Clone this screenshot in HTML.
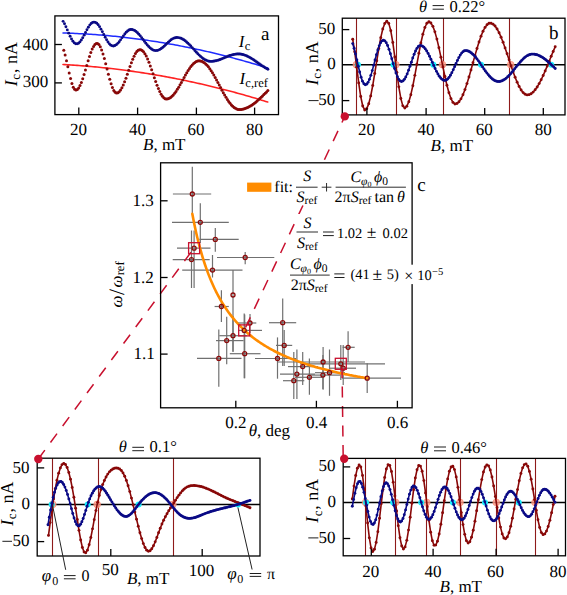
<!DOCTYPE html>
<html><head><meta charset="utf-8"><style>
html,body{margin:0;padding:0;background:#fff;}
svg{display:block;font-family:"Liberation Serif",serif;text-rendering:geometricPrecision;}
</style></head><body>
<svg width="567" height="595" viewBox="0 0 567 595" font-family="Liberation Serif">
<rect width="567" height="595" fill="#fff"/>
<polyline points="63.00,33.00 65.01,33.06 67.01,33.12 69.02,33.19 71.03,33.27 73.03,33.35 75.04,33.44 77.05,33.53 79.05,33.63 81.06,33.73 83.07,33.84 85.08,33.96 87.08,34.08 89.09,34.21 91.10,34.34 93.10,34.48 95.11,34.62 97.12,34.77 99.12,34.92 101.13,35.08 103.14,35.25 105.14,35.42 107.15,35.60 109.16,35.78 111.16,35.97 113.17,36.16 115.18,36.36 117.19,36.57 119.19,36.78 121.20,37.00 123.21,37.22 125.21,37.45 127.22,37.68 129.23,37.92 131.23,38.16 133.24,38.42 135.25,38.67 137.25,38.93 139.26,39.20 141.27,39.47 143.27,39.75 145.28,40.04 147.29,40.33 149.30,40.62 151.30,40.92 153.31,41.23 155.32,41.54 157.32,41.86 159.33,42.18 161.34,42.51 163.34,42.85 165.35,43.19 167.36,43.53 169.36,43.89 171.37,44.24 173.38,44.61 175.38,44.98 177.39,45.35 179.40,45.73 181.40,46.12 183.41,46.51 185.42,46.90 187.43,47.31 189.43,47.71 191.44,48.13 193.45,48.55 195.45,48.97 197.46,49.40 199.47,49.84 201.47,50.28 203.48,50.73 205.49,51.18 207.49,51.64 209.50,52.10 211.51,52.57 213.51,53.05 215.52,53.53 217.53,54.02 219.54,54.51 221.54,55.01 223.55,55.51 225.56,56.02 227.56,56.54 229.57,57.06 231.58,57.58 233.58,58.12 235.59,58.65 237.60,59.20 239.60,59.75 241.61,60.30 243.62,60.86 245.62,61.43 247.63,62.00 249.64,62.57 251.65,63.16 253.65,63.75 255.66,64.34 257.67,64.94 259.67,65.54 261.68,66.16 263.69,66.77 265.69,67.39 267.70,68.02" fill="none" stroke="#1f2bff" stroke-width="1.5" stroke-linejoin="round" stroke-linecap="round" />
<polyline points="63.00,64.50 65.01,64.61 67.01,64.73 69.02,64.85 71.03,64.97 73.03,65.10 75.04,65.24 77.05,65.38 79.05,65.53 81.06,65.68 83.07,65.84 85.08,66.00 87.08,66.16 89.09,66.34 91.10,66.51 93.10,66.70 95.11,66.88 97.12,67.07 99.12,67.27 101.13,67.47 103.14,67.68 105.14,67.89 107.15,68.11 109.16,68.33 111.16,68.56 113.17,68.80 115.18,69.03 117.19,69.28 119.19,69.52 121.20,69.78 123.21,70.04 125.21,70.30 127.22,70.57 129.23,70.84 131.23,71.12 133.24,71.40 135.25,71.69 137.25,71.99 139.26,72.29 141.27,72.59 143.27,72.90 145.28,73.21 147.29,73.53 149.30,73.86 151.30,74.19 153.31,74.52 155.32,74.86 157.32,75.21 159.33,75.56 161.34,75.91 163.34,76.27 165.35,76.64 167.36,77.01 169.36,77.38 171.37,77.76 173.38,78.15 175.38,78.54 177.39,78.94 179.40,79.34 181.40,79.74 183.41,80.15 185.42,80.57 187.43,80.99 189.43,81.42 191.44,81.85 193.45,82.29 195.45,82.73 197.46,83.17 199.47,83.63 201.47,84.08 203.48,84.54 205.49,85.01 207.49,85.48 209.50,85.96 211.51,86.44 213.51,86.93 215.52,87.42 217.53,87.92 219.54,88.42 221.54,88.93 223.55,89.44 225.56,89.96 227.56,90.49 229.57,91.01 231.58,91.55 233.58,92.08 235.59,92.63 237.60,93.18 239.60,93.73 241.61,94.29 243.62,94.85 245.62,95.42 247.63,96.00 249.64,96.57 251.65,97.16 253.65,97.75 255.66,98.34 257.67,98.94 259.67,99.55 261.68,100.16 263.69,100.77 265.69,101.39 267.70,102.02" fill="none" stroke="#ff2222" stroke-width="1.6" stroke-linejoin="round" stroke-linecap="round" />
<g fill="#0a0a85"><circle cx="63.10" cy="21.35" r="1.45"/><circle cx="64.50" cy="23.82" r="1.45"/><circle cx="65.91" cy="26.74" r="1.45"/><circle cx="67.31" cy="29.92" r="1.45"/><circle cx="68.71" cy="33.17" r="1.45"/><circle cx="70.11" cy="36.28" r="1.45"/><circle cx="71.52" cy="39.05" r="1.45"/><circle cx="72.92" cy="41.32" r="1.45"/><circle cx="74.32" cy="42.92" r="1.45"/><circle cx="75.72" cy="43.77" r="1.45"/><circle cx="77.13" cy="43.83" r="1.45"/><circle cx="78.53" cy="43.18" r="1.45"/><circle cx="79.93" cy="41.89" r="1.45"/><circle cx="81.34" cy="40.04" r="1.45"/><circle cx="82.74" cy="37.75" r="1.45"/><circle cx="84.14" cy="35.16" r="1.45"/><circle cx="85.54" cy="32.43" r="1.45"/><circle cx="86.95" cy="29.73" r="1.45"/><circle cx="88.35" cy="27.24" r="1.45"/><circle cx="89.75" cy="25.12" r="1.45"/><circle cx="91.15" cy="23.49" r="1.45"/><circle cx="92.56" cy="22.46" r="1.45"/><circle cx="93.96" cy="22.10" r="1.45"/><circle cx="95.36" cy="22.40" r="1.45"/><circle cx="96.77" cy="23.32" r="1.45"/><circle cx="98.17" cy="24.80" r="1.45"/><circle cx="99.57" cy="26.78" r="1.45"/><circle cx="100.97" cy="29.14" r="1.45"/><circle cx="102.38" cy="31.76" r="1.45"/><circle cx="103.78" cy="34.50" r="1.45"/><circle cx="105.18" cy="37.22" r="1.45"/><circle cx="106.58" cy="39.77" r="1.45"/><circle cx="107.99" cy="42.02" r="1.45"/><circle cx="109.39" cy="43.84" r="1.45"/><circle cx="110.79" cy="45.15" r="1.45"/><circle cx="112.20" cy="45.87" r="1.45"/><circle cx="113.60" cy="45.97" r="1.45"/><circle cx="115.00" cy="45.55" r="1.45"/><circle cx="116.40" cy="44.67" r="1.45"/><circle cx="117.81" cy="43.37" r="1.45"/><circle cx="119.21" cy="41.74" r="1.45"/><circle cx="120.61" cy="39.87" r="1.45"/><circle cx="122.02" cy="37.87" r="1.45"/><circle cx="123.42" cy="35.87" r="1.45"/><circle cx="124.82" cy="33.98" r="1.45"/><circle cx="126.22" cy="32.31" r="1.45"/><circle cx="127.63" cy="30.97" r="1.45"/><circle cx="129.03" cy="30.03" r="1.45"/><circle cx="130.43" cy="29.56" r="1.45"/><circle cx="131.83" cy="29.55" r="1.45"/><circle cx="133.24" cy="29.89" r="1.45"/><circle cx="134.64" cy="30.55" r="1.45"/><circle cx="136.04" cy="31.52" r="1.45"/><circle cx="137.45" cy="32.75" r="1.45"/><circle cx="138.85" cy="34.22" r="1.45"/><circle cx="140.25" cy="35.87" r="1.45"/><circle cx="141.65" cy="37.66" r="1.45"/><circle cx="143.06" cy="39.52" r="1.45"/><circle cx="144.46" cy="41.40" r="1.45"/><circle cx="145.86" cy="43.24" r="1.45"/><circle cx="147.26" cy="44.97" r="1.45"/><circle cx="148.67" cy="46.55" r="1.45"/><circle cx="150.07" cy="47.92" r="1.45"/><circle cx="151.47" cy="49.04" r="1.45"/><circle cx="152.88" cy="49.88" r="1.45"/><circle cx="154.28" cy="50.40" r="1.45"/><circle cx="155.68" cy="50.60" r="1.45"/><circle cx="157.08" cy="50.48" r="1.45"/><circle cx="158.49" cy="50.08" r="1.45"/><circle cx="159.89" cy="49.42" r="1.45"/><circle cx="161.29" cy="48.53" r="1.45"/><circle cx="162.69" cy="47.44" r="1.45"/><circle cx="164.10" cy="46.21" r="1.45"/><circle cx="165.50" cy="44.88" r="1.45"/><circle cx="166.90" cy="43.51" r="1.45"/><circle cx="168.31" cy="42.17" r="1.45"/><circle cx="169.71" cy="40.91" r="1.45"/><circle cx="171.11" cy="39.79" r="1.45"/><circle cx="172.51" cy="38.85" r="1.45"/><circle cx="173.92" cy="38.14" r="1.45"/><circle cx="175.32" cy="37.68" r="1.45"/><circle cx="176.72" cy="37.50" r="1.45"/><circle cx="178.12" cy="37.58" r="1.45"/><circle cx="179.53" cy="37.85" r="1.45"/><circle cx="180.93" cy="38.32" r="1.45"/><circle cx="182.33" cy="38.98" r="1.45"/><circle cx="183.74" cy="39.82" r="1.45"/><circle cx="185.14" cy="40.82" r="1.45"/><circle cx="186.54" cy="41.96" r="1.45"/><circle cx="187.94" cy="43.23" r="1.45"/><circle cx="189.35" cy="44.61" r="1.45"/><circle cx="190.75" cy="46.06" r="1.45"/><circle cx="192.15" cy="47.58" r="1.45"/><circle cx="193.55" cy="49.12" r="1.45"/><circle cx="194.96" cy="50.67" r="1.45"/><circle cx="196.36" cy="52.20" r="1.45"/><circle cx="197.76" cy="53.69" r="1.45"/><circle cx="199.17" cy="55.10" r="1.45"/><circle cx="200.57" cy="56.42" r="1.45"/><circle cx="201.97" cy="57.62" r="1.45"/><circle cx="203.37" cy="58.68" r="1.45"/><circle cx="204.78" cy="59.59" r="1.45"/><circle cx="206.18" cy="60.32" r="1.45"/><circle cx="207.58" cy="60.87" r="1.45"/><circle cx="208.98" cy="61.23" r="1.45"/><circle cx="210.39" cy="61.39" r="1.45"/><circle cx="211.79" cy="61.38" r="1.45"/><circle cx="213.19" cy="61.26" r="1.45"/><circle cx="214.60" cy="61.06" r="1.45"/><circle cx="216.00" cy="60.77" r="1.45"/><circle cx="217.40" cy="60.40" r="1.45"/><circle cx="218.80" cy="59.96" r="1.45"/><circle cx="220.21" cy="59.46" r="1.45"/><circle cx="221.61" cy="58.92" r="1.45"/><circle cx="223.01" cy="58.35" r="1.45"/><circle cx="224.42" cy="57.76" r="1.45"/><circle cx="225.82" cy="57.17" r="1.45"/><circle cx="227.22" cy="56.59" r="1.45"/><circle cx="228.62" cy="56.04" r="1.45"/><circle cx="230.03" cy="55.53" r="1.45"/><circle cx="231.43" cy="55.08" r="1.45"/><circle cx="232.83" cy="54.70" r="1.45"/><circle cx="234.23" cy="54.39" r="1.45"/><circle cx="235.64" cy="54.17" r="1.45"/><circle cx="237.04" cy="54.04" r="1.45"/><circle cx="238.44" cy="54.00" r="1.45"/><circle cx="239.85" cy="54.07" r="1.45"/><circle cx="241.25" cy="54.24" r="1.45"/><circle cx="242.65" cy="54.53" r="1.45"/><circle cx="244.05" cy="54.92" r="1.45"/><circle cx="245.46" cy="55.40" r="1.45"/><circle cx="246.86" cy="55.99" r="1.45"/><circle cx="248.26" cy="56.65" r="1.45"/><circle cx="249.66" cy="57.40" r="1.45"/><circle cx="251.07" cy="58.22" r="1.45"/><circle cx="252.47" cy="59.09" r="1.45"/><circle cx="253.87" cy="60.01" r="1.45"/><circle cx="255.28" cy="60.97" r="1.45"/><circle cx="256.68" cy="61.95" r="1.45"/><circle cx="258.08" cy="62.95" r="1.45"/><circle cx="259.48" cy="63.95" r="1.45"/><circle cx="260.89" cy="64.93" r="1.45"/><circle cx="262.29" cy="65.90" r="1.45"/><circle cx="263.69" cy="66.82" r="1.45"/><circle cx="265.09" cy="67.70" r="1.45"/><circle cx="266.50" cy="68.52" r="1.45"/><circle cx="267.90" cy="69.28" r="1.45"/></g>
<g fill="#880808"><circle cx="63.80" cy="50.26" r="1.5"/><circle cx="65.15" cy="55.05" r="1.5"/><circle cx="66.50" cy="60.69" r="1.5"/><circle cx="67.85" cy="66.79" r="1.5"/><circle cx="69.21" cy="72.91" r="1.5"/><circle cx="70.56" cy="78.60" r="1.5"/><circle cx="71.91" cy="83.46" r="1.5"/><circle cx="73.26" cy="87.13" r="1.5"/><circle cx="74.61" cy="89.36" r="1.5"/><circle cx="75.96" cy="89.99" r="1.5"/><circle cx="77.32" cy="89.41" r="1.5"/><circle cx="78.67" cy="87.93" r="1.5"/><circle cx="80.02" cy="85.59" r="1.5"/><circle cx="81.37" cy="82.50" r="1.5"/><circle cx="82.72" cy="78.78" r="1.5"/><circle cx="84.07" cy="74.57" r="1.5"/><circle cx="85.43" cy="70.05" r="1.5"/><circle cx="86.78" cy="65.40" r="1.5"/><circle cx="88.13" cy="60.79" r="1.5"/><circle cx="89.48" cy="56.43" r="1.5"/><circle cx="90.83" cy="52.47" r="1.5"/><circle cx="92.18" cy="49.08" r="1.5"/><circle cx="93.54" cy="46.40" r="1.5"/><circle cx="94.89" cy="44.53" r="1.5"/><circle cx="96.24" cy="43.55" r="1.5"/><circle cx="97.59" cy="43.51" r="1.5"/><circle cx="98.94" cy="44.58" r="1.5"/><circle cx="100.29" cy="46.75" r="1.5"/><circle cx="101.65" cy="49.90" r="1.5"/><circle cx="103.00" cy="53.91" r="1.5"/><circle cx="104.35" cy="58.57" r="1.5"/><circle cx="105.70" cy="63.68" r="1.5"/><circle cx="107.05" cy="69.00" r="1.5"/><circle cx="108.40" cy="74.29" r="1.5"/><circle cx="109.76" cy="79.29" r="1.5"/><circle cx="111.11" cy="83.78" r="1.5"/><circle cx="112.46" cy="87.54" r="1.5"/><circle cx="113.81" cy="90.41" r="1.5"/><circle cx="115.16" cy="92.26" r="1.5"/><circle cx="116.51" cy="92.99" r="1.5"/><circle cx="117.87" cy="92.73" r="1.5"/><circle cx="119.22" cy="91.76" r="1.5"/><circle cx="120.57" cy="90.11" r="1.5"/><circle cx="121.92" cy="87.84" r="1.5"/><circle cx="123.27" cy="85.02" r="1.5"/><circle cx="124.62" cy="81.75" r="1.5"/><circle cx="125.98" cy="78.13" r="1.5"/><circle cx="127.33" cy="74.28" r="1.5"/><circle cx="128.68" cy="70.34" r="1.5"/><circle cx="130.03" cy="66.42" r="1.5"/><circle cx="131.38" cy="62.67" r="1.5"/><circle cx="132.73" cy="59.21" r="1.5"/><circle cx="134.09" cy="56.14" r="1.5"/><circle cx="135.44" cy="53.58" r="1.5"/><circle cx="136.79" cy="51.60" r="1.5"/><circle cx="138.14" cy="50.28" r="1.5"/><circle cx="139.49" cy="49.65" r="1.5"/><circle cx="140.84" cy="49.72" r="1.5"/><circle cx="142.20" cy="50.44" r="1.5"/><circle cx="143.55" cy="51.76" r="1.5"/><circle cx="144.90" cy="53.67" r="1.5"/><circle cx="146.25" cy="56.11" r="1.5"/><circle cx="147.60" cy="59.02" r="1.5"/><circle cx="148.95" cy="62.32" r="1.5"/><circle cx="150.31" cy="65.93" r="1.5"/><circle cx="151.66" cy="69.75" r="1.5"/><circle cx="153.01" cy="73.69" r="1.5"/><circle cx="154.36" cy="77.64" r="1.5"/><circle cx="155.71" cy="81.51" r="1.5"/><circle cx="157.06" cy="85.19" r="1.5"/><circle cx="158.42" cy="88.59" r="1.5"/><circle cx="159.77" cy="91.61" r="1.5"/><circle cx="161.12" cy="94.19" r="1.5"/><circle cx="162.47" cy="96.25" r="1.5"/><circle cx="163.82" cy="97.75" r="1.5"/><circle cx="165.17" cy="98.64" r="1.5"/><circle cx="166.53" cy="98.90" r="1.5"/><circle cx="167.88" cy="98.71" r="1.5"/><circle cx="169.23" cy="98.20" r="1.5"/><circle cx="170.58" cy="97.39" r="1.5"/><circle cx="171.93" cy="96.29" r="1.5"/><circle cx="173.28" cy="94.91" r="1.5"/><circle cx="174.64" cy="93.27" r="1.5"/><circle cx="175.99" cy="91.42" r="1.5"/><circle cx="177.34" cy="89.37" r="1.5"/><circle cx="178.69" cy="87.16" r="1.5"/><circle cx="180.04" cy="84.82" r="1.5"/><circle cx="181.39" cy="82.41" r="1.5"/><circle cx="182.75" cy="79.95" r="1.5"/><circle cx="184.10" cy="77.49" r="1.5"/><circle cx="185.45" cy="75.07" r="1.5"/><circle cx="186.80" cy="72.73" r="1.5"/><circle cx="188.15" cy="70.51" r="1.5"/><circle cx="189.50" cy="68.44" r="1.5"/><circle cx="190.86" cy="66.57" r="1.5"/><circle cx="192.21" cy="64.92" r="1.5"/><circle cx="193.56" cy="63.51" r="1.5"/><circle cx="194.91" cy="62.39" r="1.5"/><circle cx="196.26" cy="61.55" r="1.5"/><circle cx="197.61" cy="61.02" r="1.5"/><circle cx="198.97" cy="60.80" r="1.5"/><circle cx="200.32" cy="60.89" r="1.5"/><circle cx="201.67" cy="61.25" r="1.5"/><circle cx="203.02" cy="61.88" r="1.5"/><circle cx="204.37" cy="62.76" r="1.5"/><circle cx="205.72" cy="63.90" r="1.5"/><circle cx="207.08" cy="65.27" r="1.5"/><circle cx="208.43" cy="66.86" r="1.5"/><circle cx="209.78" cy="68.66" r="1.5"/><circle cx="211.13" cy="70.64" r="1.5"/><circle cx="212.48" cy="72.78" r="1.5"/><circle cx="213.83" cy="75.06" r="1.5"/><circle cx="215.19" cy="77.45" r="1.5"/><circle cx="216.54" cy="79.93" r="1.5"/><circle cx="217.89" cy="82.47" r="1.5"/><circle cx="219.24" cy="85.04" r="1.5"/><circle cx="220.59" cy="87.60" r="1.5"/><circle cx="221.94" cy="90.15" r="1.5"/><circle cx="223.30" cy="92.63" r="1.5"/><circle cx="224.65" cy="95.03" r="1.5"/><circle cx="226.00" cy="97.32" r="1.5"/><circle cx="227.35" cy="99.48" r="1.5"/><circle cx="228.70" cy="101.47" r="1.5"/><circle cx="230.05" cy="103.29" r="1.5"/><circle cx="231.41" cy="104.90" r="1.5"/><circle cx="232.76" cy="106.29" r="1.5"/><circle cx="234.11" cy="107.45" r="1.5"/><circle cx="235.46" cy="108.35" r="1.5"/><circle cx="236.81" cy="109.00" r="1.5"/><circle cx="238.16" cy="109.39" r="1.5"/><circle cx="239.52" cy="109.50" r="1.5"/><circle cx="240.87" cy="109.44" r="1.5"/><circle cx="242.22" cy="109.26" r="1.5"/><circle cx="243.57" cy="108.98" r="1.5"/><circle cx="244.92" cy="108.60" r="1.5"/><circle cx="246.27" cy="108.11" r="1.5"/><circle cx="247.63" cy="107.52" r="1.5"/><circle cx="248.98" cy="106.83" r="1.5"/><circle cx="250.33" cy="106.06" r="1.5"/><circle cx="251.68" cy="105.19" r="1.5"/><circle cx="253.03" cy="104.25" r="1.5"/><circle cx="254.38" cy="103.23" r="1.5"/><circle cx="255.74" cy="102.14" r="1.5"/><circle cx="257.09" cy="100.99" r="1.5"/><circle cx="258.44" cy="99.79" r="1.5"/><circle cx="259.79" cy="98.54" r="1.5"/><circle cx="261.14" cy="97.25" r="1.5"/><circle cx="262.49" cy="95.94" r="1.5"/><circle cx="263.85" cy="94.60" r="1.5"/><circle cx="265.20" cy="93.25" r="1.5"/><circle cx="266.55" cy="91.90" r="1.5"/><circle cx="267.90" cy="90.56" r="1.5"/></g>
<rect x="54.90" y="15.90" width="223.60" height="98.70" fill="none" stroke="#000" stroke-width="1.3"/>
<line x1="54.90" y1="44.50" x2="61.90" y2="44.50" stroke="#000" stroke-width="1.3" />
<line x1="54.90" y1="82.90" x2="61.90" y2="82.90" stroke="#000" stroke-width="1.3" />
<line x1="78.80" y1="114.60" x2="78.80" y2="107.60" stroke="#000" stroke-width="1.3" />
<line x1="137.60" y1="114.60" x2="137.60" y2="107.60" stroke="#000" stroke-width="1.3" />
<line x1="196.40" y1="114.60" x2="196.40" y2="107.60" stroke="#000" stroke-width="1.3" />
<line x1="254.60" y1="114.60" x2="254.60" y2="107.60" stroke="#000" stroke-width="1.3" />
<text x="22.70" y="49.50" font-size="17" >400</text>
<text x="22.70" y="87.30" font-size="17" >300</text>
<text x="70.00" y="134.50" font-size="17" >20</text>
<text x="129.10" y="134.50" font-size="17" >40</text>
<text x="187.40" y="134.50" font-size="17" >60</text>
<text x="246.10" y="134.50" font-size="17" >80</text>
<text x="143.00" y="150.20" font-size="17" ><tspan font-style="italic">B</tspan>, mT</text>
<text transform="translate(17.00,86.20) rotate(-90)" font-size="18" ><tspan font-style="italic">I</tspan><tspan font-size="13" dx="0.5" dy="3.2">c</tspan><tspan dy="-3.2" dx="0.8">, nA</tspan></text>
<text x="261.10" y="39.50" font-size="19" >a</text>
<text x="238.80" y="47.40" font-size="17" ><tspan font-style="italic">I</tspan><tspan font-size="12.5" dx="0.3" dy="2.2">c</tspan></text>
<text x="239.40" y="83.90" font-size="17" ><tspan font-style="italic">I</tspan><tspan font-size="12.5" dx="0.3" dy="2.6">c,ref</tspan></text>
<line x1="356.50" y1="18.20" x2="356.50" y2="114.90" stroke="#8e1a1a" stroke-width="1.1" />
<line x1="396.50" y1="18.20" x2="396.50" y2="114.90" stroke="#8e1a1a" stroke-width="1.1" />
<line x1="443.50" y1="18.20" x2="443.50" y2="114.90" stroke="#8e1a1a" stroke-width="1.1" />
<line x1="509.50" y1="18.20" x2="509.50" y2="114.90" stroke="#8e1a1a" stroke-width="1.1" />
<line x1="342.30" y1="64.70" x2="565.00" y2="64.70" stroke="#000" stroke-width="1.5" />
<circle cx="356.39" cy="64.70" r="3.4" fill="#ff9c88" stroke="#ff8a70" stroke-width="0.6" fill-opacity="0.8"/>
<circle cx="395.81" cy="64.70" r="3.4" fill="#ff9c88" stroke="#ff8a70" stroke-width="0.6" fill-opacity="0.8"/>
<circle cx="442.47" cy="64.70" r="3.4" fill="#ff9c88" stroke="#ff8a70" stroke-width="0.6" fill-opacity="0.8"/>
<circle cx="510.69" cy="64.70" r="3.4" fill="#ff9c88" stroke="#ff8a70" stroke-width="0.6" fill-opacity="0.8"/>
<circle cx="357.95" cy="64.70" r="3.0" fill="#18f0ff"/>
<circle cx="393.47" cy="64.70" r="3.0" fill="#18f0ff"/>
<circle cx="433.38" cy="64.70" r="3.0" fill="#18f0ff"/>
<circle cx="481.08" cy="64.70" r="3.0" fill="#18f0ff"/>
<circle cx="551.28" cy="64.70" r="3.0" fill="#18f0ff"/>
<polyline points="352.70,39.23 354.70,51.86 356.71,67.19 358.71,82.88 360.72,96.52 362.72,106.03 364.73,109.94 366.73,108.64 368.74,103.82 370.74,95.88 372.75,85.48 374.75,73.46 376.76,60.79 378.76,48.52 380.77,37.65 382.77,29.04 384.78,23.41 386.78,21.22 388.79,23.39 390.79,30.78 392.80,42.45 394.80,56.92 396.81,72.37 398.81,86.84 400.82,98.48 402.82,105.84 404.83,107.98 406.83,106.22 408.84,101.69 410.84,94.70 412.85,85.73 414.85,75.36 416.86,64.30 418.86,53.27 420.87,43.02 422.87,34.23 424.88,27.50 426.88,23.26 428.89,21.80 430.89,22.95 432.90,26.36 434.90,31.85 436.91,39.09 438.91,47.68 440.92,57.14 442.92,66.92 444.93,76.47 446.93,85.25 448.94,92.77 450.94,98.60 452.95,102.40 454.95,103.96 456.96,103.55 458.96,101.82 460.97,98.85 462.97,94.73 464.98,89.60 466.98,83.62 468.99,76.99 470.99,69.92 473.00,62.65 475.00,55.41 477.01,48.43 479.01,41.94 481.02,36.15 483.02,31.25 485.03,27.41 487.03,24.73 489.04,23.32 491.04,23.19 493.05,24.13 495.05,26.07 497.06,28.95 499.06,32.69 501.07,37.18 503.07,42.30 505.08,47.90 507.08,53.81 509.09,59.87 511.09,65.90 513.10,71.74 515.10,77.21 517.11,82.17 519.11,86.46 521.12,89.96 523.12,92.58 525.13,94.24 527.13,94.89 529.14,94.64 531.14,93.69 533.15,92.08 535.15,89.82 537.16,86.97 539.16,83.58 541.17,79.72 543.17,75.46 545.18,70.90 547.18,66.12 549.19,61.22 551.19,56.29 553.20,51.43 555.20,46.75" fill="none" stroke="#880808" stroke-width="1.6" stroke-linejoin="round" stroke-linecap="round" />
<g fill="#880808"><circle cx="352.70" cy="39.23" r="1.45"/><circle cx="354.70" cy="51.86" r="1.45"/><circle cx="356.71" cy="67.19" r="1.45"/><circle cx="358.71" cy="82.88" r="1.45"/><circle cx="360.72" cy="96.52" r="1.45"/><circle cx="362.72" cy="106.03" r="1.45"/><circle cx="364.73" cy="109.94" r="1.45"/><circle cx="366.73" cy="108.64" r="1.45"/><circle cx="368.74" cy="103.82" r="1.45"/><circle cx="370.74" cy="95.88" r="1.45"/><circle cx="372.75" cy="85.48" r="1.45"/><circle cx="374.75" cy="73.46" r="1.45"/><circle cx="376.76" cy="60.79" r="1.45"/><circle cx="378.76" cy="48.52" r="1.45"/><circle cx="380.77" cy="37.65" r="1.45"/><circle cx="382.77" cy="29.04" r="1.45"/><circle cx="384.78" cy="23.41" r="1.45"/><circle cx="386.78" cy="21.22" r="1.45"/><circle cx="388.79" cy="23.39" r="1.45"/><circle cx="390.79" cy="30.78" r="1.45"/><circle cx="392.80" cy="42.45" r="1.45"/><circle cx="394.80" cy="56.92" r="1.45"/><circle cx="396.81" cy="72.37" r="1.45"/><circle cx="398.81" cy="86.84" r="1.45"/><circle cx="400.82" cy="98.48" r="1.45"/><circle cx="402.82" cy="105.84" r="1.45"/><circle cx="404.83" cy="107.98" r="1.45"/><circle cx="406.83" cy="106.22" r="1.45"/><circle cx="408.84" cy="101.69" r="1.45"/><circle cx="410.84" cy="94.70" r="1.45"/><circle cx="412.85" cy="85.73" r="1.45"/><circle cx="414.85" cy="75.36" r="1.45"/><circle cx="416.86" cy="64.30" r="1.45"/><circle cx="418.86" cy="53.27" r="1.45"/><circle cx="420.87" cy="43.02" r="1.45"/><circle cx="422.87" cy="34.23" r="1.45"/><circle cx="424.88" cy="27.50" r="1.45"/><circle cx="426.88" cy="23.26" r="1.45"/><circle cx="428.89" cy="21.80" r="1.45"/><circle cx="430.89" cy="22.95" r="1.45"/><circle cx="432.90" cy="26.36" r="1.45"/><circle cx="434.90" cy="31.85" r="1.45"/><circle cx="436.91" cy="39.09" r="1.45"/><circle cx="438.91" cy="47.68" r="1.45"/><circle cx="440.92" cy="57.14" r="1.45"/><circle cx="442.92" cy="66.92" r="1.45"/><circle cx="444.93" cy="76.47" r="1.45"/><circle cx="446.93" cy="85.25" r="1.45"/><circle cx="448.94" cy="92.77" r="1.45"/><circle cx="450.94" cy="98.60" r="1.45"/><circle cx="452.95" cy="102.40" r="1.45"/><circle cx="454.95" cy="103.96" r="1.45"/><circle cx="456.96" cy="103.55" r="1.45"/><circle cx="458.96" cy="101.82" r="1.45"/><circle cx="460.97" cy="98.85" r="1.45"/><circle cx="462.97" cy="94.73" r="1.45"/><circle cx="464.98" cy="89.60" r="1.45"/><circle cx="466.98" cy="83.62" r="1.45"/><circle cx="468.99" cy="76.99" r="1.45"/><circle cx="470.99" cy="69.92" r="1.45"/><circle cx="473.00" cy="62.65" r="1.45"/><circle cx="475.00" cy="55.41" r="1.45"/><circle cx="477.01" cy="48.43" r="1.45"/><circle cx="479.01" cy="41.94" r="1.45"/><circle cx="481.02" cy="36.15" r="1.45"/><circle cx="483.02" cy="31.25" r="1.45"/><circle cx="485.03" cy="27.41" r="1.45"/><circle cx="487.03" cy="24.73" r="1.45"/><circle cx="489.04" cy="23.32" r="1.45"/><circle cx="491.04" cy="23.19" r="1.45"/><circle cx="493.05" cy="24.13" r="1.45"/><circle cx="495.05" cy="26.07" r="1.45"/><circle cx="497.06" cy="28.95" r="1.45"/><circle cx="499.06" cy="32.69" r="1.45"/><circle cx="501.07" cy="37.18" r="1.45"/><circle cx="503.07" cy="42.30" r="1.45"/><circle cx="505.08" cy="47.90" r="1.45"/><circle cx="507.08" cy="53.81" r="1.45"/><circle cx="509.09" cy="59.87" r="1.45"/><circle cx="511.09" cy="65.90" r="1.45"/><circle cx="513.10" cy="71.74" r="1.45"/><circle cx="515.10" cy="77.21" r="1.45"/><circle cx="517.11" cy="82.17" r="1.45"/><circle cx="519.11" cy="86.46" r="1.45"/><circle cx="521.12" cy="89.96" r="1.45"/><circle cx="523.12" cy="92.58" r="1.45"/><circle cx="525.13" cy="94.24" r="1.45"/><circle cx="527.13" cy="94.89" r="1.45"/><circle cx="529.14" cy="94.64" r="1.45"/><circle cx="531.14" cy="93.69" r="1.45"/><circle cx="533.15" cy="92.08" r="1.45"/><circle cx="535.15" cy="89.82" r="1.45"/><circle cx="537.16" cy="86.97" r="1.45"/><circle cx="539.16" cy="83.58" r="1.45"/><circle cx="541.17" cy="79.72" r="1.45"/><circle cx="543.17" cy="75.46" r="1.45"/><circle cx="545.18" cy="70.90" r="1.45"/><circle cx="547.18" cy="66.12" r="1.45"/><circle cx="549.19" cy="61.22" r="1.45"/><circle cx="551.19" cy="56.29" r="1.45"/><circle cx="553.20" cy="51.43" r="1.45"/><circle cx="555.20" cy="46.75" r="1.45"/></g>
<polyline points="352.70,43.62 354.10,48.27 355.49,53.85 356.89,59.96 358.29,66.17 359.68,72.04 361.08,77.15 362.48,81.13 363.87,83.71 365.27,84.69 366.67,84.16 368.06,82.34 369.46,79.35 370.86,75.35 372.25,70.60 373.65,65.36 375.04,59.95 376.44,54.69 377.84,49.89 379.23,45.83 380.63,42.75 382.03,40.84 383.42,40.20 384.82,40.83 386.22,42.65 387.61,45.54 389.01,49.33 390.41,53.81 391.80,58.70 393.20,63.72 394.60,68.57 395.99,72.97 397.39,76.64 398.79,79.39 400.18,81.04 401.58,81.49 402.98,80.89 404.37,79.37 405.77,77.00 407.17,73.92 408.56,70.29 409.96,66.29 411.36,62.15 412.75,58.07 414.15,54.29 415.54,51.00 416.94,48.36 418.34,46.54 419.73,45.61 421.13,45.58 422.53,46.15 423.92,47.27 425.32,48.89 426.72,50.96 428.11,53.42 429.51,56.19 430.91,59.18 432.30,62.28 433.70,65.41 435.10,68.46 436.49,71.34 437.89,73.94 439.29,76.18 440.68,78.01 442.08,79.34 443.48,80.15 444.87,80.40 446.27,80.03 447.67,79.01 449.06,77.39 450.46,75.23 451.86,72.64 453.25,69.73 454.65,66.63 456.04,63.48 457.44,60.42 458.84,57.59 460.23,55.11 461.63,53.10 463.03,51.64 464.42,50.80 465.82,50.61 467.22,50.81 468.61,51.27 470.01,52.00 471.41,52.98 472.80,54.19 474.20,55.60 475.60,57.20 476.99,58.96 478.39,60.84 479.79,62.82 481.18,64.85 482.58,66.90 483.98,68.94 485.37,70.93 486.77,72.83 488.17,74.61 489.56,76.24 490.96,77.69 492.36,78.93 493.75,79.95 495.15,80.72 496.54,81.23 497.94,81.48 499.34,81.46 500.73,81.21 502.13,80.74 503.53,80.05 504.92,79.16 506.32,78.08 507.72,76.82 509.11,75.42 510.51,73.89 511.91,72.27 513.30,70.56 514.70,68.81 516.10,67.05 517.49,65.29 518.89,63.58 520.29,61.94 521.68,60.39 523.08,58.97 524.48,57.70 525.87,56.59 527.27,55.67 528.67,54.95 530.06,54.45 531.46,54.16 532.86,54.10 534.25,54.21 535.65,54.45 537.04,54.82 538.44,55.33 539.84,55.96 541.23,56.71 542.63,57.56 544.03,58.52 545.42,59.57 546.82,60.70 548.22,61.90 549.61,63.15 551.01,64.45 552.41,65.77 553.80,67.10 555.20,68.44" fill="none" stroke="#0a0a85" stroke-width="1.6" stroke-linejoin="round" stroke-linecap="round" />
<g fill="#0a0a85"><circle cx="352.70" cy="43.62" r="1.45"/><circle cx="354.10" cy="48.27" r="1.45"/><circle cx="355.49" cy="53.85" r="1.45"/><circle cx="356.89" cy="59.96" r="1.45"/><circle cx="358.29" cy="66.17" r="1.45"/><circle cx="359.68" cy="72.04" r="1.45"/><circle cx="361.08" cy="77.15" r="1.45"/><circle cx="362.48" cy="81.13" r="1.45"/><circle cx="363.87" cy="83.71" r="1.45"/><circle cx="365.27" cy="84.69" r="1.45"/><circle cx="366.67" cy="84.16" r="1.45"/><circle cx="368.06" cy="82.34" r="1.45"/><circle cx="369.46" cy="79.35" r="1.45"/><circle cx="370.86" cy="75.35" r="1.45"/><circle cx="372.25" cy="70.60" r="1.45"/><circle cx="373.65" cy="65.36" r="1.45"/><circle cx="375.04" cy="59.95" r="1.45"/><circle cx="376.44" cy="54.69" r="1.45"/><circle cx="377.84" cy="49.89" r="1.45"/><circle cx="379.23" cy="45.83" r="1.45"/><circle cx="380.63" cy="42.75" r="1.45"/><circle cx="382.03" cy="40.84" r="1.45"/><circle cx="383.42" cy="40.20" r="1.45"/><circle cx="384.82" cy="40.83" r="1.45"/><circle cx="386.22" cy="42.65" r="1.45"/><circle cx="387.61" cy="45.54" r="1.45"/><circle cx="389.01" cy="49.33" r="1.45"/><circle cx="390.41" cy="53.81" r="1.45"/><circle cx="391.80" cy="58.70" r="1.45"/><circle cx="393.20" cy="63.72" r="1.45"/><circle cx="394.60" cy="68.57" r="1.45"/><circle cx="395.99" cy="72.97" r="1.45"/><circle cx="397.39" cy="76.64" r="1.45"/><circle cx="398.79" cy="79.39" r="1.45"/><circle cx="400.18" cy="81.04" r="1.45"/><circle cx="401.58" cy="81.49" r="1.45"/><circle cx="402.98" cy="80.89" r="1.45"/><circle cx="404.37" cy="79.37" r="1.45"/><circle cx="405.77" cy="77.00" r="1.45"/><circle cx="407.17" cy="73.92" r="1.45"/><circle cx="408.56" cy="70.29" r="1.45"/><circle cx="409.96" cy="66.29" r="1.45"/><circle cx="411.36" cy="62.15" r="1.45"/><circle cx="412.75" cy="58.07" r="1.45"/><circle cx="414.15" cy="54.29" r="1.45"/><circle cx="415.54" cy="51.00" r="1.45"/><circle cx="416.94" cy="48.36" r="1.45"/><circle cx="418.34" cy="46.54" r="1.45"/><circle cx="419.73" cy="45.61" r="1.45"/><circle cx="421.13" cy="45.58" r="1.45"/><circle cx="422.53" cy="46.15" r="1.45"/><circle cx="423.92" cy="47.27" r="1.45"/><circle cx="425.32" cy="48.89" r="1.45"/><circle cx="426.72" cy="50.96" r="1.45"/><circle cx="428.11" cy="53.42" r="1.45"/><circle cx="429.51" cy="56.19" r="1.45"/><circle cx="430.91" cy="59.18" r="1.45"/><circle cx="432.30" cy="62.28" r="1.45"/><circle cx="433.70" cy="65.41" r="1.45"/><circle cx="435.10" cy="68.46" r="1.45"/><circle cx="436.49" cy="71.34" r="1.45"/><circle cx="437.89" cy="73.94" r="1.45"/><circle cx="439.29" cy="76.18" r="1.45"/><circle cx="440.68" cy="78.01" r="1.45"/><circle cx="442.08" cy="79.34" r="1.45"/><circle cx="443.48" cy="80.15" r="1.45"/><circle cx="444.87" cy="80.40" r="1.45"/><circle cx="446.27" cy="80.03" r="1.45"/><circle cx="447.67" cy="79.01" r="1.45"/><circle cx="449.06" cy="77.39" r="1.45"/><circle cx="450.46" cy="75.23" r="1.45"/><circle cx="451.86" cy="72.64" r="1.45"/><circle cx="453.25" cy="69.73" r="1.45"/><circle cx="454.65" cy="66.63" r="1.45"/><circle cx="456.04" cy="63.48" r="1.45"/><circle cx="457.44" cy="60.42" r="1.45"/><circle cx="458.84" cy="57.59" r="1.45"/><circle cx="460.23" cy="55.11" r="1.45"/><circle cx="461.63" cy="53.10" r="1.45"/><circle cx="463.03" cy="51.64" r="1.45"/><circle cx="464.42" cy="50.80" r="1.45"/><circle cx="465.82" cy="50.61" r="1.45"/><circle cx="467.22" cy="50.81" r="1.45"/><circle cx="468.61" cy="51.27" r="1.45"/><circle cx="470.01" cy="52.00" r="1.45"/><circle cx="471.41" cy="52.98" r="1.45"/><circle cx="472.80" cy="54.19" r="1.45"/><circle cx="474.20" cy="55.60" r="1.45"/><circle cx="475.60" cy="57.20" r="1.45"/><circle cx="476.99" cy="58.96" r="1.45"/><circle cx="478.39" cy="60.84" r="1.45"/><circle cx="479.79" cy="62.82" r="1.45"/><circle cx="481.18" cy="64.85" r="1.45"/><circle cx="482.58" cy="66.90" r="1.45"/><circle cx="483.98" cy="68.94" r="1.45"/><circle cx="485.37" cy="70.93" r="1.45"/><circle cx="486.77" cy="72.83" r="1.45"/><circle cx="488.17" cy="74.61" r="1.45"/><circle cx="489.56" cy="76.24" r="1.45"/><circle cx="490.96" cy="77.69" r="1.45"/><circle cx="492.36" cy="78.93" r="1.45"/><circle cx="493.75" cy="79.95" r="1.45"/><circle cx="495.15" cy="80.72" r="1.45"/><circle cx="496.54" cy="81.23" r="1.45"/><circle cx="497.94" cy="81.48" r="1.45"/><circle cx="499.34" cy="81.46" r="1.45"/><circle cx="500.73" cy="81.21" r="1.45"/><circle cx="502.13" cy="80.74" r="1.45"/><circle cx="503.53" cy="80.05" r="1.45"/><circle cx="504.92" cy="79.16" r="1.45"/><circle cx="506.32" cy="78.08" r="1.45"/><circle cx="507.72" cy="76.82" r="1.45"/><circle cx="509.11" cy="75.42" r="1.45"/><circle cx="510.51" cy="73.89" r="1.45"/><circle cx="511.91" cy="72.27" r="1.45"/><circle cx="513.30" cy="70.56" r="1.45"/><circle cx="514.70" cy="68.81" r="1.45"/><circle cx="516.10" cy="67.05" r="1.45"/><circle cx="517.49" cy="65.29" r="1.45"/><circle cx="518.89" cy="63.58" r="1.45"/><circle cx="520.29" cy="61.94" r="1.45"/><circle cx="521.68" cy="60.39" r="1.45"/><circle cx="523.08" cy="58.97" r="1.45"/><circle cx="524.48" cy="57.70" r="1.45"/><circle cx="525.87" cy="56.59" r="1.45"/><circle cx="527.27" cy="55.67" r="1.45"/><circle cx="528.67" cy="54.95" r="1.45"/><circle cx="530.06" cy="54.45" r="1.45"/><circle cx="531.46" cy="54.16" r="1.45"/><circle cx="532.86" cy="54.10" r="1.45"/><circle cx="534.25" cy="54.21" r="1.45"/><circle cx="535.65" cy="54.45" r="1.45"/><circle cx="537.04" cy="54.82" r="1.45"/><circle cx="538.44" cy="55.33" r="1.45"/><circle cx="539.84" cy="55.96" r="1.45"/><circle cx="541.23" cy="56.71" r="1.45"/><circle cx="542.63" cy="57.56" r="1.45"/><circle cx="544.03" cy="58.52" r="1.45"/><circle cx="545.42" cy="59.57" r="1.45"/><circle cx="546.82" cy="60.70" r="1.45"/><circle cx="548.22" cy="61.90" r="1.45"/><circle cx="549.61" cy="63.15" r="1.45"/><circle cx="551.01" cy="64.45" r="1.45"/><circle cx="552.41" cy="65.77" r="1.45"/><circle cx="553.80" cy="67.10" r="1.45"/><circle cx="555.20" cy="68.44" r="1.45"/></g>
<rect x="342.30" y="18.20" width="222.70" height="96.70" fill="none" stroke="#000" stroke-width="1.3"/>
<line x1="342.30" y1="29.60" x2="349.30" y2="29.60" stroke="#000" stroke-width="1.3" />
<line x1="342.30" y1="100.60" x2="349.30" y2="100.60" stroke="#000" stroke-width="1.3" />
<line x1="366.90" y1="114.90" x2="366.90" y2="107.90" stroke="#000" stroke-width="1.3" />
<line x1="426.10" y1="114.90" x2="426.10" y2="107.90" stroke="#000" stroke-width="1.3" />
<line x1="484.70" y1="114.90" x2="484.70" y2="107.90" stroke="#000" stroke-width="1.3" />
<line x1="543.30" y1="114.90" x2="543.30" y2="107.90" stroke="#000" stroke-width="1.3" />
<text x="318.30" y="33.50" font-size="17" >50</text>
<text x="327.30" y="69.00" font-size="17" >0</text>
<text x="318.30" y="105.40" font-size="17" >50</text>
<line x1="308.50" y1="100.60" x2="318.60" y2="100.60" stroke="#111" stroke-width="0.95" />
<text x="357.90" y="135.00" font-size="17" >20</text>
<text x="417.60" y="135.00" font-size="17" >40</text>
<text x="475.70" y="135.00" font-size="17" >60</text>
<text x="534.80" y="135.00" font-size="17" >80</text>
<text x="430.60" y="151.30" font-size="17" ><tspan font-style="italic">B</tspan>, mT</text>
<text transform="translate(317.50,85.30) rotate(-90)" font-size="18" ><tspan font-style="italic">I</tspan><tspan font-size="13" dx="0.5" dy="3.2">c</tspan><tspan dy="-3.2" dx="0.8">, nA</tspan></text>
<text x="549.00" y="39.20" font-size="19" >b</text>
<text x="418.90" y="12.00" font-size="16.5" font-style="italic">θ</text>
<line x1="432.60" y1="5.60" x2="443.90" y2="5.60" stroke="#111" stroke-width="0.95" />
<line x1="432.60" y1="9.20" x2="443.90" y2="9.20" stroke="#111" stroke-width="0.95" />
<text x="449.50" y="12.00" font-size="16.5" >0.22°</text>
<g stroke="#707070" stroke-width="1.2"><line x1="172.9" y1="194.0" x2="211.2" y2="194.0"/><line x1="192.3" y1="166.7" x2="192.3" y2="213.0"/><line x1="172.0" y1="222.3" x2="228.8" y2="222.3"/><line x1="200.3" y1="203.2" x2="200.3" y2="243.0"/><line x1="199.4" y1="239.4" x2="238.7" y2="239.4"/><line x1="215.3" y1="227.9" x2="215.3" y2="251.7"/><line x1="177.0" y1="248.2" x2="210.5" y2="248.2"/><line x1="194.1" y1="230.5" x2="194.1" y2="288.0"/><line x1="172.7" y1="259.6" x2="209.7" y2="259.6"/><line x1="191.5" y1="230.5" x2="191.5" y2="288.0"/><line x1="217.0" y1="257.5" x2="274.3" y2="257.5"/><line x1="245.2" y1="252.0" x2="245.2" y2="264.3"/><line x1="182.2" y1="270.1" x2="242.5" y2="270.1"/><line x1="212.5" y1="255.0" x2="212.5" y2="277.5"/><line x1="233.0" y1="295.0" x2="233.0" y2="295.0"/><line x1="233.0" y1="270.0" x2="233.0" y2="351.6"/><line x1="214.6" y1="306.5" x2="228.8" y2="306.5"/><line x1="221.4" y1="290.2" x2="221.4" y2="322.0"/><line x1="238.0" y1="330.4" x2="262.0" y2="330.4"/><line x1="244.2" y1="313.5" x2="244.2" y2="378.3"/><line x1="238.0" y1="323.0" x2="256.3" y2="323.0"/><line x1="250.0" y1="314.0" x2="250.0" y2="333.0"/><line x1="219.3" y1="335.7" x2="246.8" y2="335.7"/><line x1="233.0" y1="316.0" x2="233.0" y2="352.0"/><line x1="216.0" y1="340.6" x2="243.6" y2="340.6"/><line x1="226.7" y1="316.7" x2="226.7" y2="364.3"/><line x1="197.0" y1="358.4" x2="241.5" y2="358.4"/><line x1="218.8" y1="329.6" x2="218.8" y2="386.8"/><line x1="229.8" y1="353.7" x2="260.5" y2="353.7"/><line x1="244.7" y1="314.4" x2="244.7" y2="378.3"/><line x1="255.0" y1="358.5" x2="296.0" y2="358.5"/><line x1="277.5" y1="337.4" x2="277.5" y2="378.7"/><line x1="269.0" y1="322.7" x2="296.2" y2="322.7"/><line x1="282.7" y1="298.5" x2="282.7" y2="366.0"/><line x1="276.0" y1="345.4" x2="292.2" y2="345.4"/><line x1="284.2" y1="330.0" x2="284.2" y2="366.0"/><line x1="288.0" y1="366.6" x2="318.0" y2="366.6"/><line x1="302.7" y1="352.0" x2="302.7" y2="385.0"/><line x1="280.0" y1="374.1" x2="315.0" y2="374.1"/><line x1="296.9" y1="349.5" x2="296.9" y2="398.9"/><line x1="283.0" y1="380.7" x2="304.3" y2="380.7"/><line x1="293.8" y1="352.0" x2="293.8" y2="398.9"/><line x1="295.0" y1="377.3" x2="322.0" y2="377.3"/><line x1="309.4" y1="358.5" x2="309.4" y2="394.8"/><line x1="277.0" y1="362.0" x2="365.0" y2="362.0"/><line x1="323.1" y1="347.0" x2="323.1" y2="389.8"/><line x1="308.0" y1="375.1" x2="340.0" y2="375.1"/><line x1="322.9" y1="355.0" x2="322.9" y2="389.0"/><line x1="315.0" y1="372.7" x2="345.0" y2="372.7"/><line x1="329.5" y1="349.5" x2="329.5" y2="395.8"/><line x1="300.0" y1="363.8" x2="385.0" y2="363.8"/><line x1="340.8" y1="345.0" x2="340.8" y2="380.0"/><line x1="330.0" y1="368.2" x2="356.0" y2="368.2"/><line x1="343.2" y1="345.0" x2="343.2" y2="385.0"/><line x1="342.6" y1="347.3" x2="354.7" y2="347.3"/><line x1="348.1" y1="331.3" x2="348.1" y2="362.0"/><line x1="341.8" y1="378.2" x2="401.0" y2="378.2"/><line x1="367.2" y1="363.2" x2="367.2" y2="392.9"/></g>
<polyline points="192.30,213.80 193.30,219.03 194.30,223.99 195.30,228.71 196.30,233.19 197.30,237.46 198.30,241.53 199.30,245.42 200.30,249.14 201.29,252.69 202.29,256.09 203.29,259.36 204.29,262.49 205.29,265.49 206.29,268.38 207.29,271.15 208.29,273.83 209.29,276.40 210.29,278.88 211.29,281.27 212.29,283.58 213.29,285.81 214.29,287.96 215.29,290.04 216.29,292.05 217.29,294.00 218.29,295.89 219.28,297.72 220.28,299.49 221.28,301.21 222.28,302.87 223.28,304.49 224.28,306.06 225.28,307.59 226.28,309.07 227.28,310.51 228.28,311.92 229.28,313.28 230.28,314.61 231.28,315.90 232.28,317.16 233.28,318.39 234.28,319.59 235.28,320.75 236.27,321.89 237.27,323.00 238.27,324.09 239.27,325.14 240.27,326.18 241.27,327.19 242.27,328.17 243.27,329.14 244.27,330.08 245.27,331.00 246.27,331.90 247.27,332.78 248.27,333.64 249.27,334.49 250.27,335.31 251.27,336.12 252.27,336.92 253.27,337.69 254.26,338.45 255.26,339.20 256.26,339.93 257.26,340.64 258.26,341.35 259.26,342.04 260.26,342.71 261.26,343.38 262.26,344.03 263.26,344.66 264.26,345.29 265.26,345.91 266.26,346.51 267.26,347.11 268.26,347.69 269.26,348.26 270.26,348.82 271.25,349.38 272.25,349.92 273.25,350.46 274.25,350.98 275.25,351.50 276.25,352.01 277.25,352.51 278.25,353.00 279.25,353.48 280.25,353.96 281.25,354.43 282.25,354.89 283.25,355.34 284.25,355.79 285.25,356.23 286.25,356.67 287.25,357.09 288.25,357.51 289.24,357.93 290.24,358.34 291.24,358.74 292.24,359.13 293.24,359.53 294.24,359.91 295.24,360.29 296.24,360.66 297.24,361.03 298.24,361.40 299.24,361.75 300.24,362.11 301.24,362.46 302.24,362.80 303.24,363.14 304.24,363.48 305.24,363.81 306.23,364.13 307.23,364.45 308.23,364.77 309.23,365.09 310.23,365.39 311.23,365.70 312.23,366.00 313.23,366.30 314.23,366.59 315.23,366.88 316.23,367.17 317.23,367.45 318.23,367.73 319.23,368.01 320.23,368.28 321.23,368.55 322.23,368.82 323.23,369.08 324.22,369.34 325.22,369.60 326.22,369.85 327.22,370.10 328.22,370.35 329.22,370.60 330.22,370.84 331.22,371.08 332.22,371.32 333.22,371.55 334.22,371.78 335.22,372.01 336.22,372.24 337.22,372.46 338.22,372.69 339.22,372.91 340.22,373.12 341.21,373.34 342.21,373.55 343.21,373.76 344.21,373.97 345.21,374.17 346.21,374.38 347.21,374.58 348.21,374.78 349.21,374.98 350.21,375.17 351.21,375.36 352.21,375.56 353.21,375.75 354.21,375.93 355.21,376.12 356.21,376.30 357.21,376.48 358.21,376.66 359.20,376.84 360.20,377.02 361.20,377.19 362.20,377.37 363.20,377.54 364.20,377.71 365.20,377.88 366.20,378.04 367.20,378.21" fill="none" stroke="#ff8c00" stroke-width="2.6" stroke-linejoin="round" stroke-linecap="round" stroke-linecap="butt"/>
<g fill="none" stroke="#8b0a0a" stroke-width="1.3"><circle cx="192.3" cy="194.0" r="2.0"/><circle cx="200.3" cy="222.3" r="2.0"/><circle cx="215.3" cy="239.4" r="2.0"/><circle cx="194.1" cy="248.2" r="2.0"/><circle cx="191.5" cy="259.6" r="2.0"/><circle cx="245.2" cy="257.5" r="2.0"/><circle cx="212.5" cy="270.1" r="2.0"/><circle cx="233.0" cy="295.0" r="2.0"/><circle cx="221.4" cy="306.5" r="2.0"/><circle cx="244.2" cy="330.4" r="2.0"/><circle cx="250.0" cy="323.0" r="2.0"/><circle cx="233.0" cy="335.7" r="2.0"/><circle cx="226.7" cy="340.6" r="2.0"/><circle cx="218.8" cy="358.4" r="2.0"/><circle cx="244.7" cy="353.7" r="2.0"/><circle cx="277.5" cy="358.5" r="2.0"/><circle cx="282.7" cy="322.7" r="2.0"/><circle cx="284.2" cy="345.4" r="2.0"/><circle cx="302.7" cy="366.6" r="2.0"/><circle cx="296.9" cy="374.1" r="2.0"/><circle cx="293.8" cy="380.7" r="2.0"/><circle cx="309.4" cy="377.3" r="2.0"/><circle cx="323.1" cy="362.0" r="2.0"/><circle cx="322.9" cy="375.1" r="2.0"/><circle cx="329.5" cy="372.7" r="2.0"/><circle cx="340.8" cy="363.8" r="2.0"/><circle cx="343.2" cy="368.2" r="2.0"/><circle cx="348.1" cy="347.3" r="2.0"/><circle cx="367.2" cy="378.2" r="2.0"/></g>
<rect x="188.6" y="242.7" width="11" height="11" fill="none" stroke="#c8102e" stroke-width="1.3"/>
<rect x="238.7" y="324.9" width="11" height="11" fill="none" stroke="#c8102e" stroke-width="1.3"/>
<rect x="335.3" y="358.3" width="11" height="11" fill="none" stroke="#c8102e" stroke-width="1.3"/>
<line x1="344.80" y1="116.40" x2="244.20" y2="330.40" stroke="#c8102e" stroke-width="1.5" stroke-dasharray="11.3 9.3" stroke-dashoffset="4.6"/>
<line x1="38.30" y1="459.00" x2="193.80" y2="248.40" stroke="#c8102e" stroke-width="1.5" stroke-dasharray="11 9.5" stroke-dashoffset="0"/>
<line x1="343.20" y1="458.80" x2="342.00" y2="366.00" stroke="#c8102e" stroke-width="1.5" stroke-dasharray="11 8.5" stroke-dashoffset="16.8"/>
<rect x="160.60" y="162.80" width="251.50" height="245.00" fill="none" stroke="#000" stroke-width="1.3"/>
<line x1="160.60" y1="200.80" x2="167.60" y2="200.80" stroke="#000" stroke-width="1.3" />
<line x1="160.60" y1="277.50" x2="167.60" y2="277.50" stroke="#000" stroke-width="1.3" />
<line x1="160.60" y1="354.10" x2="167.60" y2="354.10" stroke="#000" stroke-width="1.3" />
<line x1="235.80" y1="407.80" x2="235.80" y2="400.80" stroke="#000" stroke-width="1.3" />
<line x1="316.40" y1="407.80" x2="316.40" y2="400.80" stroke="#000" stroke-width="1.3" />
<line x1="397.40" y1="407.80" x2="397.40" y2="400.80" stroke="#000" stroke-width="1.3" />
<text x="132.40" y="206.10" font-size="17" >1.3</text>
<text x="132.40" y="283.30" font-size="17" >1.2</text>
<text x="133.40" y="358.90" font-size="17" >1.1</text>
<text x="225.30" y="428.00" font-size="17" >0.2</text>
<text x="305.90" y="428.00" font-size="17" >0.4</text>
<text x="386.90" y="428.00" font-size="17" >0.6</text>
<text x="248.70" y="436.10" font-size="17" ><tspan font-style="italic">θ</tspan>, deg</text>
<text transform="translate(121.50,307.60) rotate(-90)" font-size="17" font-style="italic">ω</text>
<text transform="translate(123.80,295.00) rotate(-90)" font-size="22" >/</text>
<text transform="translate(121.50,287.60) rotate(-90)" font-size="17" font-style="italic">ω</text>
<text transform="translate(124.30,275.30) rotate(-90)" font-size="12.5" >ref</text>
<text x="417.30" y="190.60" font-size="19" >c</text>
<rect x="247.1" y="182.6" width="24.3" height="9.2" fill="#ff8c00"/>
<rect x="273.00" y="166.00" width="135.00" height="39.00" fill="#fff"/>
<text x="274.30" y="191.50" font-size="16" >fit:</text>
<line x1="296.00" y1="187.20" x2="317.60" y2="187.20" stroke="#222" stroke-width="0.95" />
<text x="303.20" y="180.90" font-size="16" font-style="italic">S</text>
<text x="296.60" y="202.30" font-size="16" ><tspan font-style="italic">S</tspan><tspan font-size="11.5" dy="1.2">ref</tspan></text>
<line x1="321.70" y1="187.20" x2="331.40" y2="187.20" stroke="#222" stroke-width="0.95" />
<line x1="326.55" y1="183.00" x2="326.55" y2="191.50" stroke="#222" stroke-width="0.95" />
<line x1="335.60" y1="187.20" x2="405.90" y2="187.20" stroke="#222" stroke-width="0.95" />
<text x="350.40" y="182.30" font-size="16" ><tspan font-style="italic">C</tspan><tspan font-size="11.5" dy="3" font-style="italic">φ</tspan><tspan font-size="8" dy="1.5">0</tspan><tspan font-size="16" dy="-4.5" dx="2.5" font-style="italic">ϕ</tspan><tspan font-size="11.5" dy="2.5">0</tspan></text>
<text x="334.60" y="202.20" font-size="16" >2π<tspan font-style="italic">S</tspan><tspan font-size="11.5" dy="2.2">ref</tspan><tspan dy="-2.2" dx="3">tan</tspan><tspan dx="3" font-style="italic">θ</tspan></text>
<rect x="295.00" y="214.00" width="114.00" height="35.00" fill="#fff"/>
<line x1="296.50" y1="232.00" x2="318.00" y2="232.00" stroke="#222" stroke-width="0.95" />
<text x="303.60" y="227.90" font-size="16" font-style="italic">S</text>
<text x="297.00" y="247.50" font-size="16" ><tspan font-style="italic">S</tspan><tspan font-size="11.5" dy="2.2">ref</tspan></text>
<line x1="323.00" y1="232.00" x2="333.80" y2="232.00" stroke="#111" stroke-width="0.95" />
<line x1="323.00" y1="235.60" x2="333.80" y2="235.60" stroke="#111" stroke-width="0.95" />
<text x="336.90" y="238.40" font-size="14.5" >1.02</text>
<text x="366.80" y="238.40" font-size="17.5" >±</text>
<text x="382.60" y="238.40" font-size="14.5" >0.02</text>
<rect x="289.00" y="255.00" width="42.00" height="38.00" fill="#fff"/>
<rect x="332.00" y="264.70" width="115.00" height="19.40" fill="#fff"/>
<line x1="290.00" y1="275.10" x2="329.70" y2="275.10" stroke="#222" stroke-width="0.95" />
<text x="289.90" y="269.40" font-size="16" ><tspan font-style="italic">C</tspan><tspan font-size="11.5" dy="3" font-style="italic">φ</tspan><tspan font-size="8" dy="1.5">0</tspan><tspan font-size="16" dy="-4.5" dx="2.5" font-style="italic">ϕ</tspan><tspan font-size="11.5" dy="2.5">0</tspan></text>
<text x="290.70" y="290.10" font-size="16" >2π<tspan font-style="italic">S</tspan><tspan font-size="11.5" dy="2.2">ref</tspan></text>
<line x1="334.30" y1="273.90" x2="344.50" y2="273.90" stroke="#111" stroke-width="0.95" />
<line x1="334.30" y1="277.50" x2="344.50" y2="277.50" stroke="#111" stroke-width="0.95" />
<text x="350.40" y="278.60" font-size="14.5" >(41</text>
<text x="372.40" y="280.00" font-size="17.5" >±</text>
<text x="386.70" y="278.60" font-size="14.5" >5)</text>
<text x="404.20" y="280.80" font-size="16" >×</text>
<text x="417.20" y="279.60" font-size="14.5" >10</text>
<text x="432.00" y="274.50" font-size="10.5" >−5</text>
<line x1="52.50" y1="458.20" x2="52.50" y2="556.00" stroke="#8e1a1a" stroke-width="1.1" />
<line x1="98.50" y1="458.20" x2="98.50" y2="556.00" stroke="#8e1a1a" stroke-width="1.1" />
<line x1="173.50" y1="458.20" x2="173.50" y2="556.00" stroke="#8e1a1a" stroke-width="1.1" />
<line x1="37.20" y1="504.40" x2="260.00" y2="504.40" stroke="#000" stroke-width="1.5" />
<circle cx="52.74" cy="504.40" r="3.4" fill="#ff9c88" stroke="#ff8a70" stroke-width="0.6" fill-opacity="0.8"/>
<circle cx="97.16" cy="504.40" r="3.4" fill="#ff9c88" stroke="#ff8a70" stroke-width="0.6" fill-opacity="0.8"/>
<circle cx="172.80" cy="504.40" r="3.4" fill="#ff9c88" stroke="#ff8a70" stroke-width="0.6" fill-opacity="0.8"/>
<circle cx="51.66" cy="504.40" r="3.0" fill="#18f0ff"/>
<circle cx="87.70" cy="504.40" r="3.0" fill="#18f0ff"/>
<circle cx="138.63" cy="504.40" r="3.0" fill="#18f0ff"/>
<circle cx="238.07" cy="504.40" r="3.0" fill="#18f0ff"/>
<polyline points="48.50,535.40 50.19,522.61 51.89,510.30 53.58,498.94 55.27,488.84 56.97,480.18 58.66,473.13 60.35,467.88 62.05,464.58 63.74,463.41 65.43,464.44 67.13,467.53 68.82,472.52 70.51,479.25 72.21,487.56 73.90,497.29 75.59,508.18 77.29,519.49 78.98,530.36 80.67,539.96 82.37,547.43 84.06,551.93 85.75,552.74 87.45,550.13 89.14,544.81 90.83,537.48 92.53,528.86 94.22,519.67 95.91,510.60 97.61,502.37 99.30,495.38 100.99,489.51 102.68,484.59 104.38,480.44 106.07,476.96 107.76,474.11 109.46,471.86 111.15,470.15 112.84,468.96 114.54,468.24 116.23,467.96 117.92,468.18 119.62,469.00 121.31,470.53 123.00,472.90 124.70,476.19 126.39,480.49 128.08,485.68 129.78,491.60 131.47,498.08 133.16,504.97 134.86,512.09 136.55,519.23 138.24,526.18 139.94,532.70 141.63,538.58 143.32,543.60 145.02,547.53 146.71,550.15 148.40,551.24 150.10,550.70 151.79,548.76 153.48,545.72 155.18,541.85 156.87,537.45 158.56,532.81 160.26,528.23 161.95,523.98 163.64,520.18 165.34,516.78 167.03,513.68 168.72,510.82 170.42,508.11 172.11,505.47 173.80,502.84 175.50,500.20 177.19,497.62 178.88,495.17 180.58,492.91 182.27,490.89 183.96,489.18 185.66,487.84 187.35,486.86 189.04,486.18 190.74,485.77 192.43,485.58 194.12,485.56 195.82,485.67 197.51,485.88 199.20,486.18 200.89,486.57 202.59,487.04 204.28,487.59 205.97,488.20 207.67,488.88 209.36,489.60 211.05,490.38 212.75,491.19 214.44,492.04 216.13,492.90 217.83,493.77 219.52,494.64 221.21,495.50 222.91,496.34 224.60,497.15 226.29,497.93 227.99,498.67 229.68,499.39 231.37,500.08 233.07,500.77 234.76,501.44 236.45,502.12 238.15,502.80 239.84,503.50 241.53,504.20 243.23,504.91 244.92,505.63 246.61,506.35 248.31,507.07 250.00,507.80" fill="none" stroke="#880808" stroke-width="1.6" stroke-linejoin="round" stroke-linecap="round" />
<g fill="#880808"><circle cx="48.50" cy="535.40" r="1.45"/><circle cx="50.19" cy="522.61" r="1.45"/><circle cx="51.89" cy="510.30" r="1.45"/><circle cx="53.58" cy="498.94" r="1.45"/><circle cx="55.27" cy="488.84" r="1.45"/><circle cx="56.97" cy="480.18" r="1.45"/><circle cx="58.66" cy="473.13" r="1.45"/><circle cx="60.35" cy="467.88" r="1.45"/><circle cx="62.05" cy="464.58" r="1.45"/><circle cx="63.74" cy="463.41" r="1.45"/><circle cx="65.43" cy="464.44" r="1.45"/><circle cx="67.13" cy="467.53" r="1.45"/><circle cx="68.82" cy="472.52" r="1.45"/><circle cx="70.51" cy="479.25" r="1.45"/><circle cx="72.21" cy="487.56" r="1.45"/><circle cx="73.90" cy="497.29" r="1.45"/><circle cx="75.59" cy="508.18" r="1.45"/><circle cx="77.29" cy="519.49" r="1.45"/><circle cx="78.98" cy="530.36" r="1.45"/><circle cx="80.67" cy="539.96" r="1.45"/><circle cx="82.37" cy="547.43" r="1.45"/><circle cx="84.06" cy="551.93" r="1.45"/><circle cx="85.75" cy="552.74" r="1.45"/><circle cx="87.45" cy="550.13" r="1.45"/><circle cx="89.14" cy="544.81" r="1.45"/><circle cx="90.83" cy="537.48" r="1.45"/><circle cx="92.53" cy="528.86" r="1.45"/><circle cx="94.22" cy="519.67" r="1.45"/><circle cx="95.91" cy="510.60" r="1.45"/><circle cx="97.61" cy="502.37" r="1.45"/><circle cx="99.30" cy="495.38" r="1.45"/><circle cx="100.99" cy="489.51" r="1.45"/><circle cx="102.68" cy="484.59" r="1.45"/><circle cx="104.38" cy="480.44" r="1.45"/><circle cx="106.07" cy="476.96" r="1.45"/><circle cx="107.76" cy="474.11" r="1.45"/><circle cx="109.46" cy="471.86" r="1.45"/><circle cx="111.15" cy="470.15" r="1.45"/><circle cx="112.84" cy="468.96" r="1.45"/><circle cx="114.54" cy="468.24" r="1.45"/><circle cx="116.23" cy="467.96" r="1.45"/><circle cx="117.92" cy="468.18" r="1.45"/><circle cx="119.62" cy="469.00" r="1.45"/><circle cx="121.31" cy="470.53" r="1.45"/><circle cx="123.00" cy="472.90" r="1.45"/><circle cx="124.70" cy="476.19" r="1.45"/><circle cx="126.39" cy="480.49" r="1.45"/><circle cx="128.08" cy="485.68" r="1.45"/><circle cx="129.78" cy="491.60" r="1.45"/><circle cx="131.47" cy="498.08" r="1.45"/><circle cx="133.16" cy="504.97" r="1.45"/><circle cx="134.86" cy="512.09" r="1.45"/><circle cx="136.55" cy="519.23" r="1.45"/><circle cx="138.24" cy="526.18" r="1.45"/><circle cx="139.94" cy="532.70" r="1.45"/><circle cx="141.63" cy="538.58" r="1.45"/><circle cx="143.32" cy="543.60" r="1.45"/><circle cx="145.02" cy="547.53" r="1.45"/><circle cx="146.71" cy="550.15" r="1.45"/><circle cx="148.40" cy="551.24" r="1.45"/><circle cx="150.10" cy="550.70" r="1.45"/><circle cx="151.79" cy="548.76" r="1.45"/><circle cx="153.48" cy="545.72" r="1.45"/><circle cx="155.18" cy="541.85" r="1.45"/><circle cx="156.87" cy="537.45" r="1.45"/><circle cx="158.56" cy="532.81" r="1.45"/><circle cx="160.26" cy="528.23" r="1.45"/><circle cx="161.95" cy="523.98" r="1.45"/><circle cx="163.64" cy="520.18" r="1.45"/><circle cx="165.34" cy="516.78" r="1.45"/><circle cx="167.03" cy="513.68" r="1.45"/><circle cx="168.72" cy="510.82" r="1.45"/><circle cx="170.42" cy="508.11" r="1.45"/><circle cx="172.11" cy="505.47" r="1.45"/><circle cx="173.80" cy="502.84" r="1.45"/><circle cx="175.50" cy="500.20" r="1.45"/><circle cx="177.19" cy="497.62" r="1.45"/><circle cx="178.88" cy="495.17" r="1.45"/><circle cx="180.58" cy="492.91" r="1.45"/><circle cx="182.27" cy="490.89" r="1.45"/><circle cx="183.96" cy="489.18" r="1.45"/><circle cx="185.66" cy="487.84" r="1.45"/><circle cx="187.35" cy="486.86" r="1.45"/><circle cx="189.04" cy="486.18" r="1.45"/><circle cx="190.74" cy="485.77" r="1.45"/><circle cx="192.43" cy="485.58" r="1.45"/><circle cx="194.12" cy="485.56" r="1.45"/><circle cx="195.82" cy="485.67" r="1.45"/><circle cx="197.51" cy="485.88" r="1.45"/><circle cx="199.20" cy="486.18" r="1.45"/><circle cx="200.89" cy="486.57" r="1.45"/><circle cx="202.59" cy="487.04" r="1.45"/><circle cx="204.28" cy="487.59" r="1.45"/><circle cx="205.97" cy="488.20" r="1.45"/><circle cx="207.67" cy="488.88" r="1.45"/><circle cx="209.36" cy="489.60" r="1.45"/><circle cx="211.05" cy="490.38" r="1.45"/><circle cx="212.75" cy="491.19" r="1.45"/><circle cx="214.44" cy="492.04" r="1.45"/><circle cx="216.13" cy="492.90" r="1.45"/><circle cx="217.83" cy="493.77" r="1.45"/><circle cx="219.52" cy="494.64" r="1.45"/><circle cx="221.21" cy="495.50" r="1.45"/><circle cx="222.91" cy="496.34" r="1.45"/><circle cx="224.60" cy="497.15" r="1.45"/><circle cx="226.29" cy="497.93" r="1.45"/><circle cx="227.99" cy="498.67" r="1.45"/><circle cx="229.68" cy="499.39" r="1.45"/><circle cx="231.37" cy="500.08" r="1.45"/><circle cx="233.07" cy="500.77" r="1.45"/><circle cx="234.76" cy="501.44" r="1.45"/><circle cx="236.45" cy="502.12" r="1.45"/><circle cx="238.15" cy="502.80" r="1.45"/><circle cx="239.84" cy="503.50" r="1.45"/><circle cx="241.53" cy="504.20" r="1.45"/><circle cx="243.23" cy="504.91" r="1.45"/><circle cx="244.92" cy="505.63" r="1.45"/><circle cx="246.61" cy="506.35" r="1.45"/><circle cx="248.31" cy="507.07" r="1.45"/><circle cx="250.00" cy="507.80" r="1.45"/></g>
<polyline points="48.00,524.80 49.30,517.20 50.61,509.89 51.91,503.17 53.21,497.26 54.52,492.22 55.82,488.09 57.12,484.92 58.43,482.75 59.73,481.62 61.03,481.57 62.34,482.54 63.64,484.43 64.94,487.11 66.25,490.49 67.55,494.45 68.85,498.88 70.15,503.68 71.46,508.64 72.76,513.49 74.06,517.93 75.37,521.67 76.67,524.40 77.97,525.84 79.28,525.76 80.58,524.32 81.88,521.79 83.19,518.44 84.49,514.55 85.79,510.39 87.10,506.24 88.40,502.37 89.70,498.89 91.01,495.82 92.31,493.16 93.61,490.94 94.92,489.16 96.22,487.83 97.52,486.96 98.83,486.56 100.13,486.65 101.43,487.23 102.74,488.24 104.04,489.62 105.34,491.30 106.65,493.21 107.95,495.29 109.25,497.47 110.55,499.68 111.86,501.87 113.16,504.02 114.46,506.09 115.77,508.05 117.07,509.88 118.37,511.55 119.68,513.03 120.98,514.28 122.28,515.29 123.59,516.01 124.89,516.42 126.19,516.49 127.50,516.20 128.80,515.55 130.10,514.59 131.41,513.39 132.71,511.98 134.01,510.41 135.32,508.75 136.62,507.03 137.92,505.32 139.23,503.65 140.53,502.06 141.83,500.56 143.14,499.15 144.44,497.86 145.74,496.68 147.05,495.63 148.35,494.73 149.65,493.97 150.95,493.38 152.26,492.96 153.56,492.72 154.86,492.66 156.17,492.79 157.47,493.08 158.77,493.54 160.08,494.16 161.38,494.94 162.68,495.88 163.99,496.96 165.29,498.19 166.59,499.55 167.90,501.03 169.20,502.59 170.50,504.20 171.81,505.83 173.11,507.46 174.41,509.06 175.72,510.58 177.02,512.01 178.32,513.31 179.63,514.46 180.93,515.45 182.23,516.30 183.54,517.00 184.84,517.56 186.14,517.98 187.45,518.26 188.75,518.40 190.05,518.42 191.35,518.32 192.66,518.11 193.96,517.81 195.26,517.44 196.57,517.01 197.87,516.52 199.17,516.00 200.48,515.46 201.78,514.91 203.08,514.37 204.39,513.85 205.69,513.35 206.99,512.87 208.30,512.41 209.60,511.97 210.90,511.55 212.21,511.14 213.51,510.75 214.81,510.38 216.12,510.02 217.42,509.67 218.72,509.33 220.03,508.99 221.33,508.67 222.63,508.35 223.94,508.04 225.24,507.72 226.54,507.41 227.85,507.10 229.15,506.78 230.45,506.46 231.75,506.14 233.06,505.80 234.36,505.45 235.66,505.10 236.97,504.73 238.27,504.34 239.57,503.94 240.88,503.53 242.18,503.10 243.48,502.67 244.79,502.22 246.09,501.77 247.39,501.32 248.70,500.86 250.00,500.40" fill="none" stroke="#0a0a85" stroke-width="1.6" stroke-linejoin="round" stroke-linecap="round" />
<g fill="#0a0a85"><circle cx="48.00" cy="524.80" r="1.45"/><circle cx="49.30" cy="517.20" r="1.45"/><circle cx="50.61" cy="509.89" r="1.45"/><circle cx="51.91" cy="503.17" r="1.45"/><circle cx="53.21" cy="497.26" r="1.45"/><circle cx="54.52" cy="492.22" r="1.45"/><circle cx="55.82" cy="488.09" r="1.45"/><circle cx="57.12" cy="484.92" r="1.45"/><circle cx="58.43" cy="482.75" r="1.45"/><circle cx="59.73" cy="481.62" r="1.45"/><circle cx="61.03" cy="481.57" r="1.45"/><circle cx="62.34" cy="482.54" r="1.45"/><circle cx="63.64" cy="484.43" r="1.45"/><circle cx="64.94" cy="487.11" r="1.45"/><circle cx="66.25" cy="490.49" r="1.45"/><circle cx="67.55" cy="494.45" r="1.45"/><circle cx="68.85" cy="498.88" r="1.45"/><circle cx="70.15" cy="503.68" r="1.45"/><circle cx="71.46" cy="508.64" r="1.45"/><circle cx="72.76" cy="513.49" r="1.45"/><circle cx="74.06" cy="517.93" r="1.45"/><circle cx="75.37" cy="521.67" r="1.45"/><circle cx="76.67" cy="524.40" r="1.45"/><circle cx="77.97" cy="525.84" r="1.45"/><circle cx="79.28" cy="525.76" r="1.45"/><circle cx="80.58" cy="524.32" r="1.45"/><circle cx="81.88" cy="521.79" r="1.45"/><circle cx="83.19" cy="518.44" r="1.45"/><circle cx="84.49" cy="514.55" r="1.45"/><circle cx="85.79" cy="510.39" r="1.45"/><circle cx="87.10" cy="506.24" r="1.45"/><circle cx="88.40" cy="502.37" r="1.45"/><circle cx="89.70" cy="498.89" r="1.45"/><circle cx="91.01" cy="495.82" r="1.45"/><circle cx="92.31" cy="493.16" r="1.45"/><circle cx="93.61" cy="490.94" r="1.45"/><circle cx="94.92" cy="489.16" r="1.45"/><circle cx="96.22" cy="487.83" r="1.45"/><circle cx="97.52" cy="486.96" r="1.45"/><circle cx="98.83" cy="486.56" r="1.45"/><circle cx="100.13" cy="486.65" r="1.45"/><circle cx="101.43" cy="487.23" r="1.45"/><circle cx="102.74" cy="488.24" r="1.45"/><circle cx="104.04" cy="489.62" r="1.45"/><circle cx="105.34" cy="491.30" r="1.45"/><circle cx="106.65" cy="493.21" r="1.45"/><circle cx="107.95" cy="495.29" r="1.45"/><circle cx="109.25" cy="497.47" r="1.45"/><circle cx="110.55" cy="499.68" r="1.45"/><circle cx="111.86" cy="501.87" r="1.45"/><circle cx="113.16" cy="504.02" r="1.45"/><circle cx="114.46" cy="506.09" r="1.45"/><circle cx="115.77" cy="508.05" r="1.45"/><circle cx="117.07" cy="509.88" r="1.45"/><circle cx="118.37" cy="511.55" r="1.45"/><circle cx="119.68" cy="513.03" r="1.45"/><circle cx="120.98" cy="514.28" r="1.45"/><circle cx="122.28" cy="515.29" r="1.45"/><circle cx="123.59" cy="516.01" r="1.45"/><circle cx="124.89" cy="516.42" r="1.45"/><circle cx="126.19" cy="516.49" r="1.45"/><circle cx="127.50" cy="516.20" r="1.45"/><circle cx="128.80" cy="515.55" r="1.45"/><circle cx="130.10" cy="514.59" r="1.45"/><circle cx="131.41" cy="513.39" r="1.45"/><circle cx="132.71" cy="511.98" r="1.45"/><circle cx="134.01" cy="510.41" r="1.45"/><circle cx="135.32" cy="508.75" r="1.45"/><circle cx="136.62" cy="507.03" r="1.45"/><circle cx="137.92" cy="505.32" r="1.45"/><circle cx="139.23" cy="503.65" r="1.45"/><circle cx="140.53" cy="502.06" r="1.45"/><circle cx="141.83" cy="500.56" r="1.45"/><circle cx="143.14" cy="499.15" r="1.45"/><circle cx="144.44" cy="497.86" r="1.45"/><circle cx="145.74" cy="496.68" r="1.45"/><circle cx="147.05" cy="495.63" r="1.45"/><circle cx="148.35" cy="494.73" r="1.45"/><circle cx="149.65" cy="493.97" r="1.45"/><circle cx="150.95" cy="493.38" r="1.45"/><circle cx="152.26" cy="492.96" r="1.45"/><circle cx="153.56" cy="492.72" r="1.45"/><circle cx="154.86" cy="492.66" r="1.45"/><circle cx="156.17" cy="492.79" r="1.45"/><circle cx="157.47" cy="493.08" r="1.45"/><circle cx="158.77" cy="493.54" r="1.45"/><circle cx="160.08" cy="494.16" r="1.45"/><circle cx="161.38" cy="494.94" r="1.45"/><circle cx="162.68" cy="495.88" r="1.45"/><circle cx="163.99" cy="496.96" r="1.45"/><circle cx="165.29" cy="498.19" r="1.45"/><circle cx="166.59" cy="499.55" r="1.45"/><circle cx="167.90" cy="501.03" r="1.45"/><circle cx="169.20" cy="502.59" r="1.45"/><circle cx="170.50" cy="504.20" r="1.45"/><circle cx="171.81" cy="505.83" r="1.45"/><circle cx="173.11" cy="507.46" r="1.45"/><circle cx="174.41" cy="509.06" r="1.45"/><circle cx="175.72" cy="510.58" r="1.45"/><circle cx="177.02" cy="512.01" r="1.45"/><circle cx="178.32" cy="513.31" r="1.45"/><circle cx="179.63" cy="514.46" r="1.45"/><circle cx="180.93" cy="515.45" r="1.45"/><circle cx="182.23" cy="516.30" r="1.45"/><circle cx="183.54" cy="517.00" r="1.45"/><circle cx="184.84" cy="517.56" r="1.45"/><circle cx="186.14" cy="517.98" r="1.45"/><circle cx="187.45" cy="518.26" r="1.45"/><circle cx="188.75" cy="518.40" r="1.45"/><circle cx="190.05" cy="518.42" r="1.45"/><circle cx="191.35" cy="518.32" r="1.45"/><circle cx="192.66" cy="518.11" r="1.45"/><circle cx="193.96" cy="517.81" r="1.45"/><circle cx="195.26" cy="517.44" r="1.45"/><circle cx="196.57" cy="517.01" r="1.45"/><circle cx="197.87" cy="516.52" r="1.45"/><circle cx="199.17" cy="516.00" r="1.45"/><circle cx="200.48" cy="515.46" r="1.45"/><circle cx="201.78" cy="514.91" r="1.45"/><circle cx="203.08" cy="514.37" r="1.45"/><circle cx="204.39" cy="513.85" r="1.45"/><circle cx="205.69" cy="513.35" r="1.45"/><circle cx="206.99" cy="512.87" r="1.45"/><circle cx="208.30" cy="512.41" r="1.45"/><circle cx="209.60" cy="511.97" r="1.45"/><circle cx="210.90" cy="511.55" r="1.45"/><circle cx="212.21" cy="511.14" r="1.45"/><circle cx="213.51" cy="510.75" r="1.45"/><circle cx="214.81" cy="510.38" r="1.45"/><circle cx="216.12" cy="510.02" r="1.45"/><circle cx="217.42" cy="509.67" r="1.45"/><circle cx="218.72" cy="509.33" r="1.45"/><circle cx="220.03" cy="508.99" r="1.45"/><circle cx="221.33" cy="508.67" r="1.45"/><circle cx="222.63" cy="508.35" r="1.45"/><circle cx="223.94" cy="508.04" r="1.45"/><circle cx="225.24" cy="507.72" r="1.45"/><circle cx="226.54" cy="507.41" r="1.45"/><circle cx="227.85" cy="507.10" r="1.45"/><circle cx="229.15" cy="506.78" r="1.45"/><circle cx="230.45" cy="506.46" r="1.45"/><circle cx="231.75" cy="506.14" r="1.45"/><circle cx="233.06" cy="505.80" r="1.45"/><circle cx="234.36" cy="505.45" r="1.45"/><circle cx="235.66" cy="505.10" r="1.45"/><circle cx="236.97" cy="504.73" r="1.45"/><circle cx="238.27" cy="504.34" r="1.45"/><circle cx="239.57" cy="503.94" r="1.45"/><circle cx="240.88" cy="503.53" r="1.45"/><circle cx="242.18" cy="503.10" r="1.45"/><circle cx="243.48" cy="502.67" r="1.45"/><circle cx="244.79" cy="502.22" r="1.45"/><circle cx="246.09" cy="501.77" r="1.45"/><circle cx="247.39" cy="501.32" r="1.45"/><circle cx="248.70" cy="500.86" r="1.45"/><circle cx="250.00" cy="500.40" r="1.45"/></g>
<rect x="37.20" y="458.20" width="222.80" height="97.80" fill="none" stroke="#000" stroke-width="1.3"/>
<line x1="37.20" y1="467.90" x2="44.20" y2="467.90" stroke="#000" stroke-width="1.3" />
<line x1="37.20" y1="541.60" x2="44.20" y2="541.60" stroke="#000" stroke-width="1.3" />
<line x1="110.80" y1="556.00" x2="110.80" y2="549.00" stroke="#000" stroke-width="1.3" />
<line x1="202.20" y1="556.00" x2="202.20" y2="549.00" stroke="#000" stroke-width="1.3" />
<text x="12.50" y="472.60" font-size="17" >50</text>
<text x="21.50" y="509.30" font-size="17" >0</text>
<text x="12.50" y="546.00" font-size="17" >50</text>
<line x1="2.40" y1="541.30" x2="12.00" y2="541.30" stroke="#111" stroke-width="0.95" />
<text x="101.80" y="575.10" font-size="17" >50</text>
<text x="188.70" y="575.70" font-size="17" >100</text>
<text x="126.90" y="584.20" font-size="17" ><tspan font-style="italic">B</tspan>, mT</text>
<text transform="translate(12.90,525.70) rotate(-90)" font-size="18" ><tspan font-style="italic">I</tspan><tspan font-size="13" dx="0.5" dy="3.2">c</tspan><tspan dy="-3.2" dx="0.8">, nA</tspan></text>
<text x="118.70" y="452.20" font-size="16.5" font-style="italic">θ</text>
<line x1="132.30" y1="447.30" x2="144.00" y2="447.30" stroke="#111" stroke-width="0.95" />
<line x1="132.30" y1="450.70" x2="144.00" y2="450.70" stroke="#111" stroke-width="0.95" />
<text x="149.60" y="451.80" font-size="16.5" >0.1°</text>
<line x1="52.60" y1="505.60" x2="65.70" y2="569.80" stroke="#222" stroke-width="1.0" />
<line x1="237.90" y1="507.50" x2="252.10" y2="569.50" stroke="#222" stroke-width="1.0" />
<text x="41.70" y="580.90" font-size="17" font-style="italic">φ</text>
<text x="52.30" y="585.10" font-size="12" >0</text>
<line x1="63.90" y1="575.60" x2="75.60" y2="575.60" stroke="#111" stroke-width="0.95" />
<line x1="63.90" y1="578.80" x2="75.60" y2="578.80" stroke="#111" stroke-width="0.95" />
<text x="81.40" y="581.40" font-size="16" >0</text>
<text x="227.30" y="579.30" font-size="17" font-style="italic">φ</text>
<text x="237.30" y="583.00" font-size="12" >0</text>
<line x1="249.70" y1="573.50" x2="261.20" y2="573.50" stroke="#111" stroke-width="0.95" />
<line x1="249.70" y1="576.40" x2="261.20" y2="576.40" stroke="#111" stroke-width="0.95" />
<text x="267.00" y="579.30" font-size="16" >π</text>
<line x1="365.50" y1="458.40" x2="365.50" y2="555.80" stroke="#8e1a1a" stroke-width="1.1" />
<line x1="395.50" y1="458.40" x2="395.50" y2="555.80" stroke="#8e1a1a" stroke-width="1.1" />
<line x1="426.50" y1="458.40" x2="426.50" y2="555.80" stroke="#8e1a1a" stroke-width="1.1" />
<line x1="460.50" y1="458.40" x2="460.50" y2="555.80" stroke="#8e1a1a" stroke-width="1.1" />
<line x1="496.50" y1="458.40" x2="496.50" y2="555.80" stroke="#8e1a1a" stroke-width="1.1" />
<line x1="535.50" y1="458.40" x2="535.50" y2="555.80" stroke="#8e1a1a" stroke-width="1.1" />
<line x1="343.20" y1="502.40" x2="565.50" y2="502.40" stroke="#000" stroke-width="1.5" />
<circle cx="365.58" cy="502.40" r="3.4" fill="#ff9c88" stroke="#ff8a70" stroke-width="0.6" fill-opacity="0.8"/>
<circle cx="395.62" cy="502.40" r="3.4" fill="#ff9c88" stroke="#ff8a70" stroke-width="0.6" fill-opacity="0.8"/>
<circle cx="426.73" cy="502.40" r="3.4" fill="#ff9c88" stroke="#ff8a70" stroke-width="0.6" fill-opacity="0.8"/>
<circle cx="459.97" cy="502.40" r="3.4" fill="#ff9c88" stroke="#ff8a70" stroke-width="0.6" fill-opacity="0.8"/>
<circle cx="496.29" cy="502.40" r="3.4" fill="#ff9c88" stroke="#ff8a70" stroke-width="0.6" fill-opacity="0.8"/>
<circle cx="535.00" cy="502.40" r="3.4" fill="#ff9c88" stroke="#ff8a70" stroke-width="0.6" fill-opacity="0.8"/>
<circle cx="366.05" cy="502.40" r="3.0" fill="#18f0ff"/>
<circle cx="393.20" cy="502.40" r="3.0" fill="#18f0ff"/>
<circle cx="421.21" cy="502.40" r="3.0" fill="#18f0ff"/>
<circle cx="452.97" cy="502.40" r="3.0" fill="#18f0ff"/>
<circle cx="485.00" cy="502.40" r="3.0" fill="#18f0ff"/>
<circle cx="518.78" cy="502.40" r="3.0" fill="#18f0ff"/>
<polyline points="352.30,498.94 354.00,486.08 355.71,475.44 357.41,468.13 359.11,464.92 360.82,466.88 362.52,475.38 364.22,489.13 365.93,505.91 367.63,523.07 369.33,537.85 371.04,547.89 372.74,551.60 374.44,549.32 376.15,542.41 377.85,531.63 379.55,518.21 381.26,503.64 382.96,489.56 384.66,477.54 386.37,468.95 388.07,464.74 389.77,465.49 391.48,471.54 393.18,482.13 394.88,495.90 396.59,511.07 398.29,525.67 399.99,537.82 401.70,545.94 403.40,548.99 405.10,546.91 406.81,540.37 408.51,530.09 410.21,517.23 411.92,503.23 413.62,489.67 415.32,478.07 417.03,469.72 418.73,465.57 420.43,466.09 422.14,471.32 423.84,480.62 425.54,492.89 427.25,506.66 428.95,520.29 430.65,532.15 432.36,540.81 434.06,545.24 435.76,545.10 437.47,541.22 439.17,534.05 440.87,524.26 442.58,512.77 444.28,500.63 445.98,488.98 447.69,478.89 449.39,471.31 451.09,466.93 452.80,466.19 454.50,469.59 456.21,476.92 457.91,487.34 459.61,499.70 461.32,512.60 463.02,524.60 464.72,534.35 466.43,540.75 468.13,543.10 469.83,541.68 471.54,537.30 473.24,530.28 474.94,521.19 476.65,510.74 478.35,499.76 480.05,489.11 481.76,479.62 483.46,472.05 485.16,467.00 486.87,464.86 488.57,465.85 490.27,470.00 491.98,476.94 493.68,486.07 495.38,496.58 497.09,507.55 498.79,518.03 500.49,527.08 502.20,533.92 503.90,537.95 505.60,538.83 507.31,536.96 509.01,532.68 510.71,526.28 512.42,518.19 514.12,508.95 515.82,499.21 517.53,489.60 519.23,480.80 520.93,473.38 522.64,467.86 524.34,464.61 526.04,463.87 527.75,466.14 529.45,471.45 531.15,479.31 532.86,489.00 534.56,499.63 536.26,510.22 537.97,519.81 539.67,527.51 541.37,532.62 543.08,534.67 544.78,533.91 546.48,531.12 548.19,526.46 549.89,520.22 551.59,512.78 553.30,504.58 555.00,496.13" fill="none" stroke="#880808" stroke-width="1.6" stroke-linejoin="round" stroke-linecap="round" />
<g fill="#880808"><circle cx="352.30" cy="498.94" r="1.45"/><circle cx="354.00" cy="486.08" r="1.45"/><circle cx="355.71" cy="475.44" r="1.45"/><circle cx="357.41" cy="468.13" r="1.45"/><circle cx="359.11" cy="464.92" r="1.45"/><circle cx="360.82" cy="466.88" r="1.45"/><circle cx="362.52" cy="475.38" r="1.45"/><circle cx="364.22" cy="489.13" r="1.45"/><circle cx="365.93" cy="505.91" r="1.45"/><circle cx="367.63" cy="523.07" r="1.45"/><circle cx="369.33" cy="537.85" r="1.45"/><circle cx="371.04" cy="547.89" r="1.45"/><circle cx="372.74" cy="551.60" r="1.45"/><circle cx="374.44" cy="549.32" r="1.45"/><circle cx="376.15" cy="542.41" r="1.45"/><circle cx="377.85" cy="531.63" r="1.45"/><circle cx="379.55" cy="518.21" r="1.45"/><circle cx="381.26" cy="503.64" r="1.45"/><circle cx="382.96" cy="489.56" r="1.45"/><circle cx="384.66" cy="477.54" r="1.45"/><circle cx="386.37" cy="468.95" r="1.45"/><circle cx="388.07" cy="464.74" r="1.45"/><circle cx="389.77" cy="465.49" r="1.45"/><circle cx="391.48" cy="471.54" r="1.45"/><circle cx="393.18" cy="482.13" r="1.45"/><circle cx="394.88" cy="495.90" r="1.45"/><circle cx="396.59" cy="511.07" r="1.45"/><circle cx="398.29" cy="525.67" r="1.45"/><circle cx="399.99" cy="537.82" r="1.45"/><circle cx="401.70" cy="545.94" r="1.45"/><circle cx="403.40" cy="548.99" r="1.45"/><circle cx="405.10" cy="546.91" r="1.45"/><circle cx="406.81" cy="540.37" r="1.45"/><circle cx="408.51" cy="530.09" r="1.45"/><circle cx="410.21" cy="517.23" r="1.45"/><circle cx="411.92" cy="503.23" r="1.45"/><circle cx="413.62" cy="489.67" r="1.45"/><circle cx="415.32" cy="478.07" r="1.45"/><circle cx="417.03" cy="469.72" r="1.45"/><circle cx="418.73" cy="465.57" r="1.45"/><circle cx="420.43" cy="466.09" r="1.45"/><circle cx="422.14" cy="471.32" r="1.45"/><circle cx="423.84" cy="480.62" r="1.45"/><circle cx="425.54" cy="492.89" r="1.45"/><circle cx="427.25" cy="506.66" r="1.45"/><circle cx="428.95" cy="520.29" r="1.45"/><circle cx="430.65" cy="532.15" r="1.45"/><circle cx="432.36" cy="540.81" r="1.45"/><circle cx="434.06" cy="545.24" r="1.45"/><circle cx="435.76" cy="545.10" r="1.45"/><circle cx="437.47" cy="541.22" r="1.45"/><circle cx="439.17" cy="534.05" r="1.45"/><circle cx="440.87" cy="524.26" r="1.45"/><circle cx="442.58" cy="512.77" r="1.45"/><circle cx="444.28" cy="500.63" r="1.45"/><circle cx="445.98" cy="488.98" r="1.45"/><circle cx="447.69" cy="478.89" r="1.45"/><circle cx="449.39" cy="471.31" r="1.45"/><circle cx="451.09" cy="466.93" r="1.45"/><circle cx="452.80" cy="466.19" r="1.45"/><circle cx="454.50" cy="469.59" r="1.45"/><circle cx="456.21" cy="476.92" r="1.45"/><circle cx="457.91" cy="487.34" r="1.45"/><circle cx="459.61" cy="499.70" r="1.45"/><circle cx="461.32" cy="512.60" r="1.45"/><circle cx="463.02" cy="524.60" r="1.45"/><circle cx="464.72" cy="534.35" r="1.45"/><circle cx="466.43" cy="540.75" r="1.45"/><circle cx="468.13" cy="543.10" r="1.45"/><circle cx="469.83" cy="541.68" r="1.45"/><circle cx="471.54" cy="537.30" r="1.45"/><circle cx="473.24" cy="530.28" r="1.45"/><circle cx="474.94" cy="521.19" r="1.45"/><circle cx="476.65" cy="510.74" r="1.45"/><circle cx="478.35" cy="499.76" r="1.45"/><circle cx="480.05" cy="489.11" r="1.45"/><circle cx="481.76" cy="479.62" r="1.45"/><circle cx="483.46" cy="472.05" r="1.45"/><circle cx="485.16" cy="467.00" r="1.45"/><circle cx="486.87" cy="464.86" r="1.45"/><circle cx="488.57" cy="465.85" r="1.45"/><circle cx="490.27" cy="470.00" r="1.45"/><circle cx="491.98" cy="476.94" r="1.45"/><circle cx="493.68" cy="486.07" r="1.45"/><circle cx="495.38" cy="496.58" r="1.45"/><circle cx="497.09" cy="507.55" r="1.45"/><circle cx="498.79" cy="518.03" r="1.45"/><circle cx="500.49" cy="527.08" r="1.45"/><circle cx="502.20" cy="533.92" r="1.45"/><circle cx="503.90" cy="537.95" r="1.45"/><circle cx="505.60" cy="538.83" r="1.45"/><circle cx="507.31" cy="536.96" r="1.45"/><circle cx="509.01" cy="532.68" r="1.45"/><circle cx="510.71" cy="526.28" r="1.45"/><circle cx="512.42" cy="518.19" r="1.45"/><circle cx="514.12" cy="508.95" r="1.45"/><circle cx="515.82" cy="499.21" r="1.45"/><circle cx="517.53" cy="489.60" r="1.45"/><circle cx="519.23" cy="480.80" r="1.45"/><circle cx="520.93" cy="473.38" r="1.45"/><circle cx="522.64" cy="467.86" r="1.45"/><circle cx="524.34" cy="464.61" r="1.45"/><circle cx="526.04" cy="463.87" r="1.45"/><circle cx="527.75" cy="466.14" r="1.45"/><circle cx="529.45" cy="471.45" r="1.45"/><circle cx="531.15" cy="479.31" r="1.45"/><circle cx="532.86" cy="489.00" r="1.45"/><circle cx="534.56" cy="499.63" r="1.45"/><circle cx="536.26" cy="510.22" r="1.45"/><circle cx="537.97" cy="519.81" r="1.45"/><circle cx="539.67" cy="527.51" r="1.45"/><circle cx="541.37" cy="532.62" r="1.45"/><circle cx="543.08" cy="534.67" r="1.45"/><circle cx="544.78" cy="533.91" r="1.45"/><circle cx="546.48" cy="531.12" r="1.45"/><circle cx="548.19" cy="526.46" r="1.45"/><circle cx="549.89" cy="520.22" r="1.45"/><circle cx="551.59" cy="512.78" r="1.45"/><circle cx="553.30" cy="504.58" r="1.45"/><circle cx="555.00" cy="496.13" r="1.45"/></g>
<polyline points="352.30,506.24 353.60,499.57 354.90,493.19 356.20,487.74 357.50,483.75 358.80,481.61 360.10,481.51 361.40,483.43 362.69,487.16 363.99,492.37 365.29,498.56 366.59,505.16 367.89,511.54 369.19,517.12 370.49,521.37 371.79,523.89 373.09,524.45 374.39,523.05 375.69,519.83 376.99,515.10 378.29,509.31 379.59,502.98 380.89,496.71 382.19,491.10 383.48,486.65 384.78,483.80 386.08,482.80 387.38,483.58 388.68,485.91 389.98,489.59 391.28,494.33 392.58,499.72 393.88,505.34 395.18,510.71 396.48,515.40 397.78,519.03 399.08,521.29 400.38,522.00 401.68,521.07 402.98,518.57 404.27,514.74 405.57,509.91 406.87,504.54 408.17,499.11 409.47,494.14 410.77,490.08 412.07,487.30 413.37,486.05 414.67,486.33 415.97,487.80 417.27,490.34 418.57,493.76 419.87,497.82 421.17,502.24 422.47,506.68 423.76,510.84 425.06,514.42 426.36,517.16 427.66,518.86 428.96,519.40 430.26,518.82 431.56,517.21 432.86,514.69 434.16,511.41 435.46,507.60 436.76,503.49 438.06,499.37 439.36,495.50 440.66,492.13 441.96,489.49 443.26,487.75 444.55,487.02 445.85,487.31 447.15,488.53 448.45,490.60 449.75,493.40 451.05,496.78 452.35,500.54 453.65,504.46 454.95,508.32 456.25,511.90 457.55,514.99 458.85,517.42 460.15,519.04 461.45,519.76 462.75,519.52 464.04,518.27 465.34,516.07 466.64,513.08 467.94,509.49 469.24,505.54 470.54,501.48 471.84,497.59 473.14,494.11 474.44,491.28 475.74,489.27 477.04,488.24 478.34,488.23 479.64,489.29 480.94,491.34 482.24,494.26 483.54,497.85 484.83,501.87 486.13,506.07 487.43,510.16 488.73,513.88 490.03,516.99 491.33,519.28 492.63,520.60 493.93,520.87 495.23,520.23 496.53,518.76 497.83,516.56 499.13,513.75 500.43,510.50 501.73,506.99 503.03,503.43 504.32,500.03 505.62,496.97 506.92,494.45 508.22,492.61 509.52,491.54 510.82,491.32 512.12,491.80 513.42,492.91 514.72,494.59 516.02,496.75 517.32,499.28 518.62,502.05 519.92,504.92 521.22,507.75 522.52,510.38 523.82,512.69 525.11,514.55 526.41,515.87 527.71,516.58 529.01,516.63 530.31,515.83 531.61,514.18 532.91,511.80 534.21,508.84 535.51,505.49 536.81,501.98 538.11,498.52 539.41,495.36 540.71,492.70 542.01,490.71 543.31,489.52 544.61,489.21 545.90,489.52 547.20,490.30 548.50,491.52 549.80,493.13 551.10,495.08 552.40,497.29 553.70,499.70 555.00,502.21" fill="none" stroke="#0a0a85" stroke-width="1.6" stroke-linejoin="round" stroke-linecap="round" />
<g fill="#0a0a85"><circle cx="352.30" cy="506.24" r="1.45"/><circle cx="353.60" cy="499.57" r="1.45"/><circle cx="354.90" cy="493.19" r="1.45"/><circle cx="356.20" cy="487.74" r="1.45"/><circle cx="357.50" cy="483.75" r="1.45"/><circle cx="358.80" cy="481.61" r="1.45"/><circle cx="360.10" cy="481.51" r="1.45"/><circle cx="361.40" cy="483.43" r="1.45"/><circle cx="362.69" cy="487.16" r="1.45"/><circle cx="363.99" cy="492.37" r="1.45"/><circle cx="365.29" cy="498.56" r="1.45"/><circle cx="366.59" cy="505.16" r="1.45"/><circle cx="367.89" cy="511.54" r="1.45"/><circle cx="369.19" cy="517.12" r="1.45"/><circle cx="370.49" cy="521.37" r="1.45"/><circle cx="371.79" cy="523.89" r="1.45"/><circle cx="373.09" cy="524.45" r="1.45"/><circle cx="374.39" cy="523.05" r="1.45"/><circle cx="375.69" cy="519.83" r="1.45"/><circle cx="376.99" cy="515.10" r="1.45"/><circle cx="378.29" cy="509.31" r="1.45"/><circle cx="379.59" cy="502.98" r="1.45"/><circle cx="380.89" cy="496.71" r="1.45"/><circle cx="382.19" cy="491.10" r="1.45"/><circle cx="383.48" cy="486.65" r="1.45"/><circle cx="384.78" cy="483.80" r="1.45"/><circle cx="386.08" cy="482.80" r="1.45"/><circle cx="387.38" cy="483.58" r="1.45"/><circle cx="388.68" cy="485.91" r="1.45"/><circle cx="389.98" cy="489.59" r="1.45"/><circle cx="391.28" cy="494.33" r="1.45"/><circle cx="392.58" cy="499.72" r="1.45"/><circle cx="393.88" cy="505.34" r="1.45"/><circle cx="395.18" cy="510.71" r="1.45"/><circle cx="396.48" cy="515.40" r="1.45"/><circle cx="397.78" cy="519.03" r="1.45"/><circle cx="399.08" cy="521.29" r="1.45"/><circle cx="400.38" cy="522.00" r="1.45"/><circle cx="401.68" cy="521.07" r="1.45"/><circle cx="402.98" cy="518.57" r="1.45"/><circle cx="404.27" cy="514.74" r="1.45"/><circle cx="405.57" cy="509.91" r="1.45"/><circle cx="406.87" cy="504.54" r="1.45"/><circle cx="408.17" cy="499.11" r="1.45"/><circle cx="409.47" cy="494.14" r="1.45"/><circle cx="410.77" cy="490.08" r="1.45"/><circle cx="412.07" cy="487.30" r="1.45"/><circle cx="413.37" cy="486.05" r="1.45"/><circle cx="414.67" cy="486.33" r="1.45"/><circle cx="415.97" cy="487.80" r="1.45"/><circle cx="417.27" cy="490.34" r="1.45"/><circle cx="418.57" cy="493.76" r="1.45"/><circle cx="419.87" cy="497.82" r="1.45"/><circle cx="421.17" cy="502.24" r="1.45"/><circle cx="422.47" cy="506.68" r="1.45"/><circle cx="423.76" cy="510.84" r="1.45"/><circle cx="425.06" cy="514.42" r="1.45"/><circle cx="426.36" cy="517.16" r="1.45"/><circle cx="427.66" cy="518.86" r="1.45"/><circle cx="428.96" cy="519.40" r="1.45"/><circle cx="430.26" cy="518.82" r="1.45"/><circle cx="431.56" cy="517.21" r="1.45"/><circle cx="432.86" cy="514.69" r="1.45"/><circle cx="434.16" cy="511.41" r="1.45"/><circle cx="435.46" cy="507.60" r="1.45"/><circle cx="436.76" cy="503.49" r="1.45"/><circle cx="438.06" cy="499.37" r="1.45"/><circle cx="439.36" cy="495.50" r="1.45"/><circle cx="440.66" cy="492.13" r="1.45"/><circle cx="441.96" cy="489.49" r="1.45"/><circle cx="443.26" cy="487.75" r="1.45"/><circle cx="444.55" cy="487.02" r="1.45"/><circle cx="445.85" cy="487.31" r="1.45"/><circle cx="447.15" cy="488.53" r="1.45"/><circle cx="448.45" cy="490.60" r="1.45"/><circle cx="449.75" cy="493.40" r="1.45"/><circle cx="451.05" cy="496.78" r="1.45"/><circle cx="452.35" cy="500.54" r="1.45"/><circle cx="453.65" cy="504.46" r="1.45"/><circle cx="454.95" cy="508.32" r="1.45"/><circle cx="456.25" cy="511.90" r="1.45"/><circle cx="457.55" cy="514.99" r="1.45"/><circle cx="458.85" cy="517.42" r="1.45"/><circle cx="460.15" cy="519.04" r="1.45"/><circle cx="461.45" cy="519.76" r="1.45"/><circle cx="462.75" cy="519.52" r="1.45"/><circle cx="464.04" cy="518.27" r="1.45"/><circle cx="465.34" cy="516.07" r="1.45"/><circle cx="466.64" cy="513.08" r="1.45"/><circle cx="467.94" cy="509.49" r="1.45"/><circle cx="469.24" cy="505.54" r="1.45"/><circle cx="470.54" cy="501.48" r="1.45"/><circle cx="471.84" cy="497.59" r="1.45"/><circle cx="473.14" cy="494.11" r="1.45"/><circle cx="474.44" cy="491.28" r="1.45"/><circle cx="475.74" cy="489.27" r="1.45"/><circle cx="477.04" cy="488.24" r="1.45"/><circle cx="478.34" cy="488.23" r="1.45"/><circle cx="479.64" cy="489.29" r="1.45"/><circle cx="480.94" cy="491.34" r="1.45"/><circle cx="482.24" cy="494.26" r="1.45"/><circle cx="483.54" cy="497.85" r="1.45"/><circle cx="484.83" cy="501.87" r="1.45"/><circle cx="486.13" cy="506.07" r="1.45"/><circle cx="487.43" cy="510.16" r="1.45"/><circle cx="488.73" cy="513.88" r="1.45"/><circle cx="490.03" cy="516.99" r="1.45"/><circle cx="491.33" cy="519.28" r="1.45"/><circle cx="492.63" cy="520.60" r="1.45"/><circle cx="493.93" cy="520.87" r="1.45"/><circle cx="495.23" cy="520.23" r="1.45"/><circle cx="496.53" cy="518.76" r="1.45"/><circle cx="497.83" cy="516.56" r="1.45"/><circle cx="499.13" cy="513.75" r="1.45"/><circle cx="500.43" cy="510.50" r="1.45"/><circle cx="501.73" cy="506.99" r="1.45"/><circle cx="503.03" cy="503.43" r="1.45"/><circle cx="504.32" cy="500.03" r="1.45"/><circle cx="505.62" cy="496.97" r="1.45"/><circle cx="506.92" cy="494.45" r="1.45"/><circle cx="508.22" cy="492.61" r="1.45"/><circle cx="509.52" cy="491.54" r="1.45"/><circle cx="510.82" cy="491.32" r="1.45"/><circle cx="512.12" cy="491.80" r="1.45"/><circle cx="513.42" cy="492.91" r="1.45"/><circle cx="514.72" cy="494.59" r="1.45"/><circle cx="516.02" cy="496.75" r="1.45"/><circle cx="517.32" cy="499.28" r="1.45"/><circle cx="518.62" cy="502.05" r="1.45"/><circle cx="519.92" cy="504.92" r="1.45"/><circle cx="521.22" cy="507.75" r="1.45"/><circle cx="522.52" cy="510.38" r="1.45"/><circle cx="523.82" cy="512.69" r="1.45"/><circle cx="525.11" cy="514.55" r="1.45"/><circle cx="526.41" cy="515.87" r="1.45"/><circle cx="527.71" cy="516.58" r="1.45"/><circle cx="529.01" cy="516.63" r="1.45"/><circle cx="530.31" cy="515.83" r="1.45"/><circle cx="531.61" cy="514.18" r="1.45"/><circle cx="532.91" cy="511.80" r="1.45"/><circle cx="534.21" cy="508.84" r="1.45"/><circle cx="535.51" cy="505.49" r="1.45"/><circle cx="536.81" cy="501.98" r="1.45"/><circle cx="538.11" cy="498.52" r="1.45"/><circle cx="539.41" cy="495.36" r="1.45"/><circle cx="540.71" cy="492.70" r="1.45"/><circle cx="542.01" cy="490.71" r="1.45"/><circle cx="543.31" cy="489.52" r="1.45"/><circle cx="544.61" cy="489.21" r="1.45"/><circle cx="545.90" cy="489.52" r="1.45"/><circle cx="547.20" cy="490.30" r="1.45"/><circle cx="548.50" cy="491.52" r="1.45"/><circle cx="549.80" cy="493.13" r="1.45"/><circle cx="551.10" cy="495.08" r="1.45"/><circle cx="552.40" cy="497.29" r="1.45"/><circle cx="553.70" cy="499.70" r="1.45"/><circle cx="555.00" cy="502.21" r="1.45"/></g>
<rect x="343.20" y="458.40" width="222.30" height="97.40" fill="none" stroke="#000" stroke-width="1.3"/>
<line x1="343.20" y1="466.90" x2="350.20" y2="466.90" stroke="#000" stroke-width="1.3" />
<line x1="343.20" y1="538.50" x2="350.20" y2="538.50" stroke="#000" stroke-width="1.3" />
<line x1="371.30" y1="555.80" x2="371.30" y2="548.80" stroke="#000" stroke-width="1.3" />
<line x1="433.10" y1="555.80" x2="433.10" y2="548.80" stroke="#000" stroke-width="1.3" />
<line x1="496.10" y1="555.80" x2="496.10" y2="548.80" stroke="#000" stroke-width="1.3" />
<line x1="558.10" y1="555.80" x2="558.10" y2="548.80" stroke="#000" stroke-width="1.3" />
<text x="318.40" y="471.00" font-size="17" >50</text>
<text x="327.40" y="506.90" font-size="17" >0</text>
<text x="318.40" y="542.80" font-size="17" >50</text>
<line x1="308.30" y1="537.90" x2="318.40" y2="537.90" stroke="#111" stroke-width="0.95" />
<text x="362.30" y="576.90" font-size="17" >20</text>
<text x="424.60" y="576.90" font-size="17" >40</text>
<text x="487.10" y="576.90" font-size="17" >60</text>
<text x="549.60" y="576.90" font-size="17" >80</text>
<text x="439.50" y="591.80" font-size="17" ><tspan font-style="italic">B</tspan>, mT</text>
<text transform="translate(318.40,522.80) rotate(-90)" font-size="18" ><tspan font-style="italic">I</tspan><tspan font-size="13" dx="0.5" dy="3.2">c</tspan><tspan dy="-3.2" dx="0.8">, nA</tspan></text>
<text x="420.30" y="452.60" font-size="16.5" font-style="italic">θ</text>
<line x1="434.00" y1="447.00" x2="446.00" y2="447.00" stroke="#111" stroke-width="0.95" />
<line x1="434.00" y1="450.80" x2="446.00" y2="450.80" stroke="#111" stroke-width="0.95" />
<text x="451.40" y="452.60" font-size="16.5" >0.46°</text>
<circle cx="344.8" cy="116.4" r="4.2" fill="#c8102e"/>
<circle cx="38.3" cy="459.0" r="4.2" fill="#c8102e"/>
<circle cx="344.2" cy="458.8" r="4.2" fill="#c8102e"/>
</svg></body></html>
